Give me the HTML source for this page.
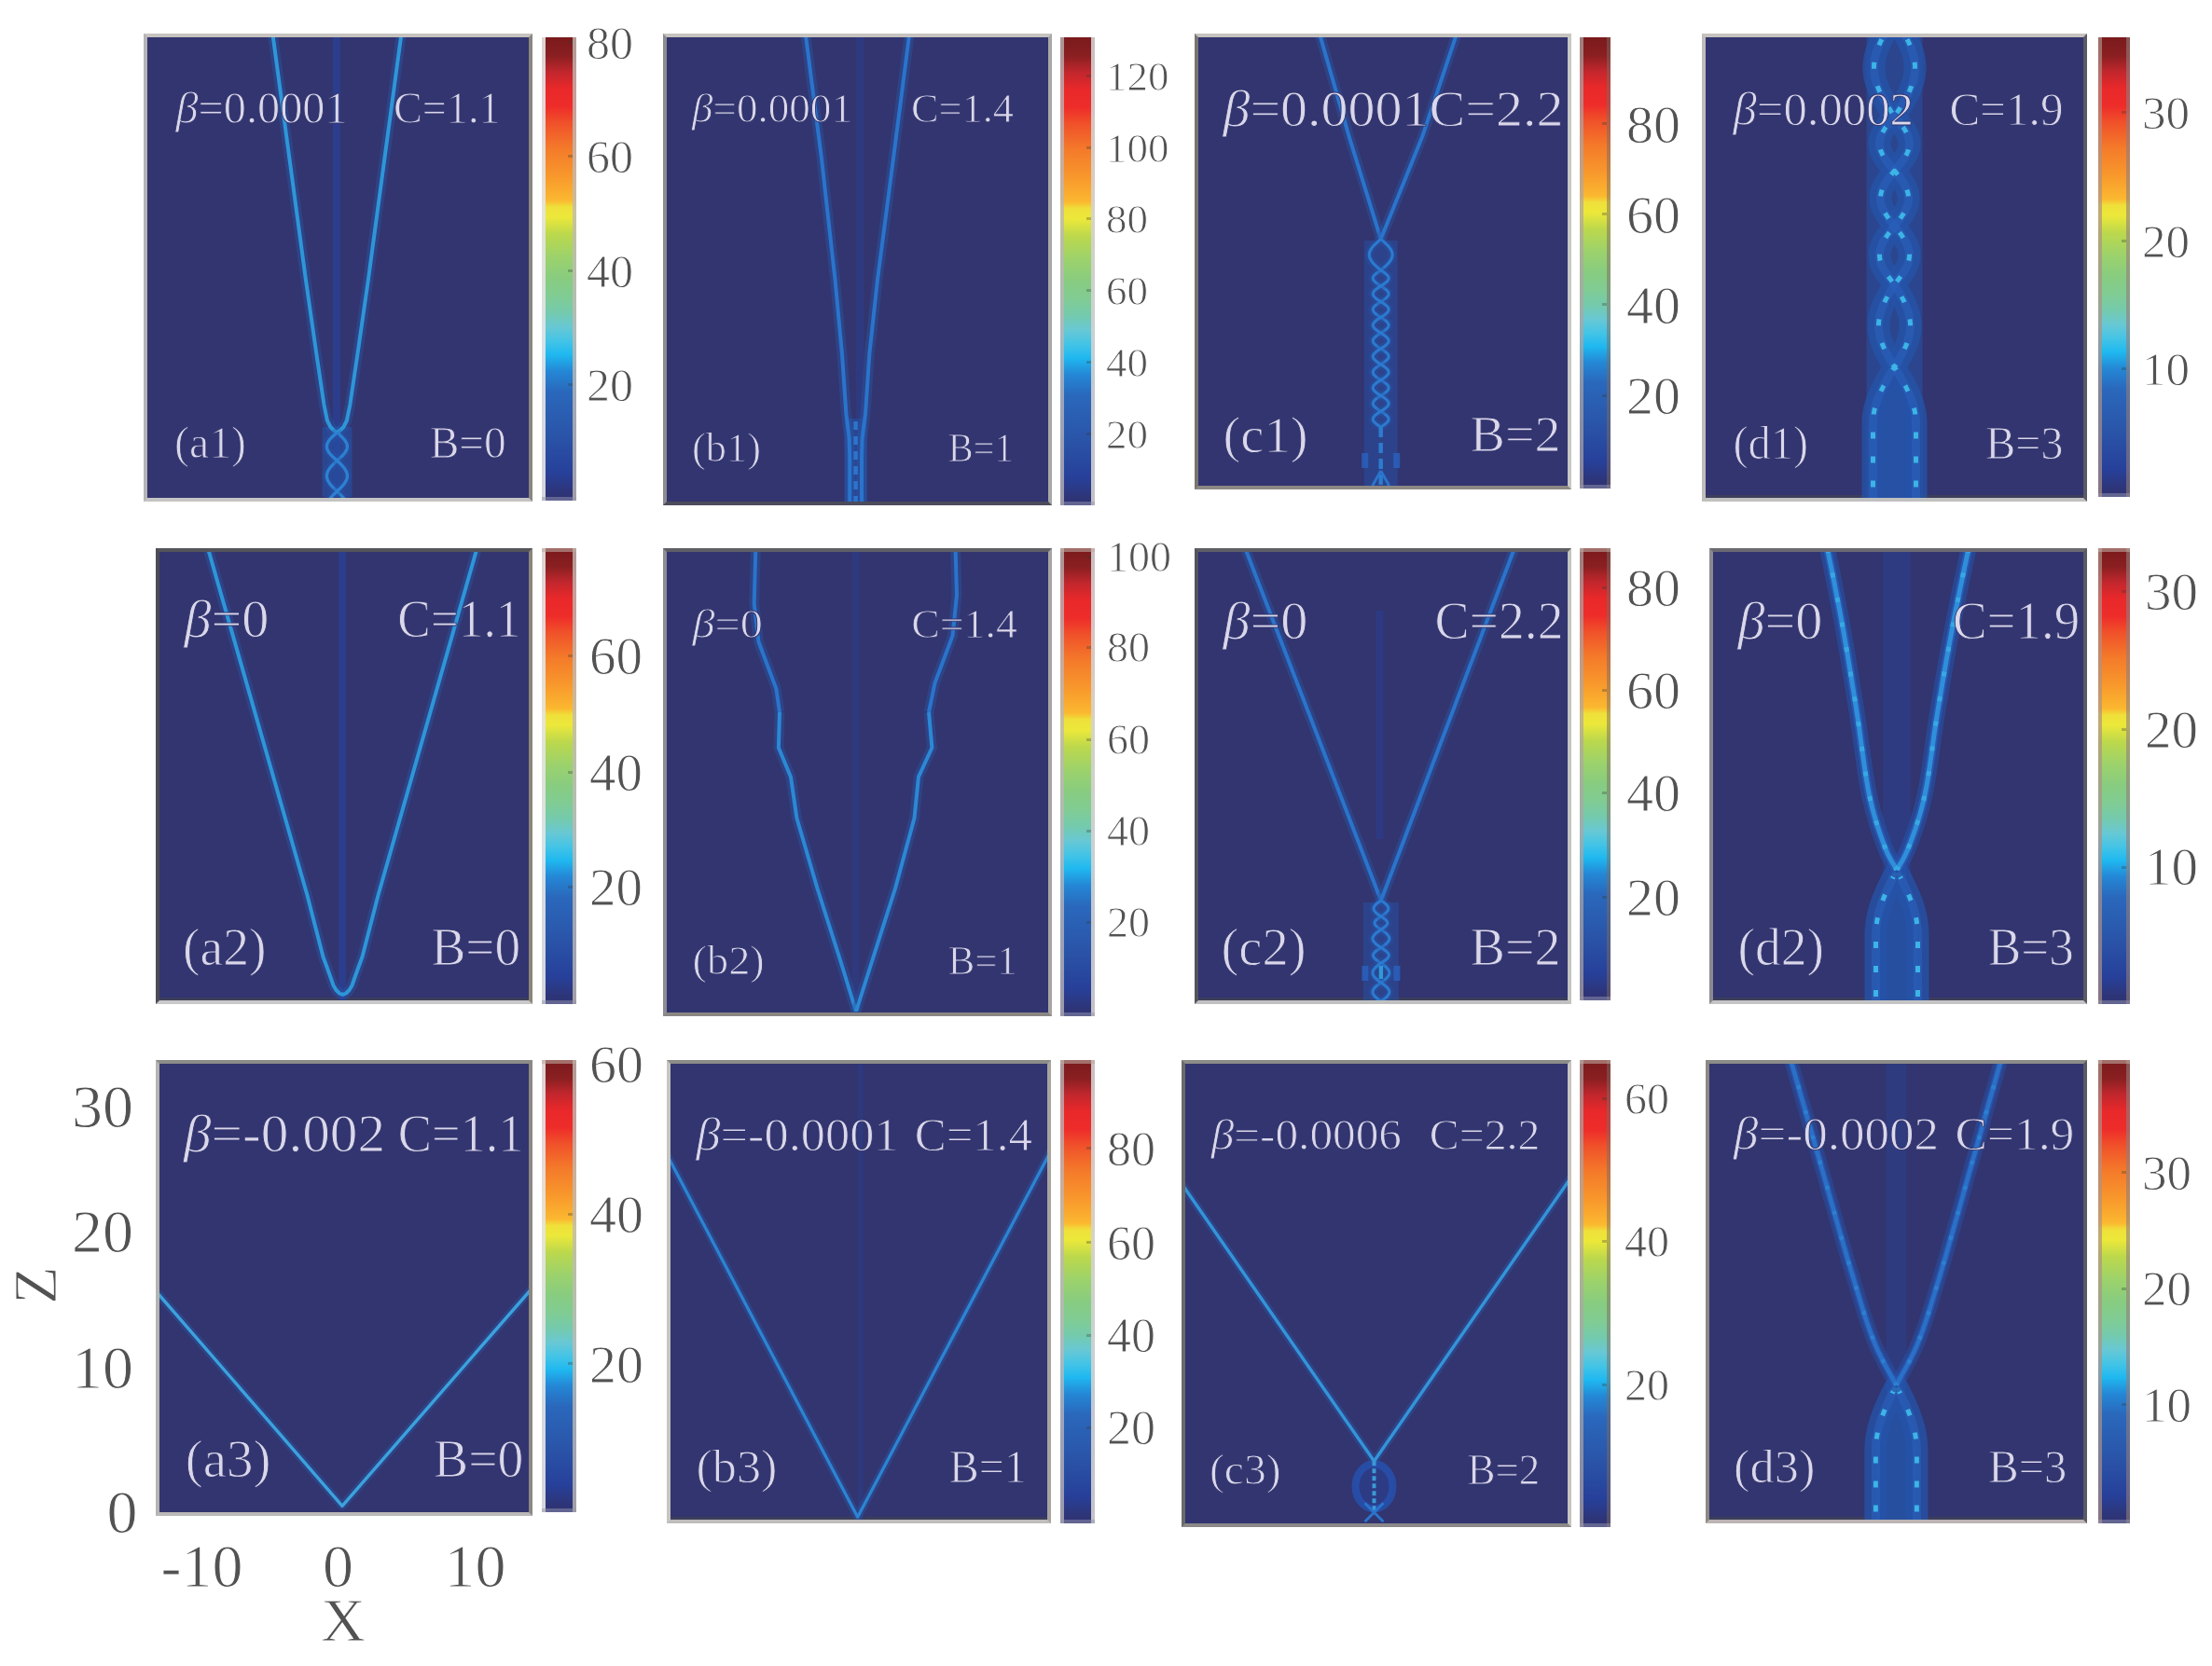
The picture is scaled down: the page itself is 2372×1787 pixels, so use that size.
<!DOCTYPE html>
<html lang="en"><head><meta charset="utf-8"><title>Figure: soliton propagation panels</title>
<style>
html,body{margin:0;padding:0;background:#fff}
#fig{position:relative;width:2372px;height:1787px;overflow:hidden;background:#fff;font-family:'Liberation Serif','DejaVu Serif',serif;filter:blur(0.75px)}
.panel{position:absolute;box-sizing:border-box;background:#32356f;border-style:solid;border-width:4px;overflow:hidden}
.panel svg{position:absolute;left:-4px;top:-4px;display:block}
.cb{position:absolute;box-sizing:border-box;background:linear-gradient(to bottom,#7a1a1c 0%,#8a1f21 4%,#c1272d 7.5%,#e8282a 11%,#ee2d2a 15%,#f0512a 18.5%,#f47a2a 24%,#f8982c 30%,#fbb830 35.2%,#efe03a 36.6%,#ece83a 38.8%,#bcd84c 42.5%,#9cd26c 47.5%,#88cc80 52%,#80cc94 56%,#74caae 59.5%,#68c8d4 62.5%,#44c4e6 65.5%,#1fb8f0 68.5%,#2488d6 72%,#2a68bc 76.5%,#2a54a8 86%,#27409a 94%,#2e3476 98.5%,#2e3476 100%)}
 .cb i{position:absolute;right:4px;width:5px;height:3px;background:rgba(50,60,50,0.3)}
svg text{font-family:'Liberation Serif','DejaVu Serif',serif}
#ov{position:absolute;left:0;top:0}
</style></head><body>
<div id="fig">
<div class="panel" id="p-a1" style="left:154px;top:36px;width:417px;height:501.5px;border-color:#c6c2be #8a8680 #c4c4c4 #b4b4b4">
<svg width="417" height="501.5" viewBox="154 36 417 501.5"><rect x="357" y="40" width="8" height="493" fill="#2b3d8c" fill-opacity="1"/><rect x="345.5" y="458" width="32" height="75" fill="#2552a8" fill-opacity="0.6"/><path d="M292.6 38 L310.4 170 L327.9 300 L339.4 380 L347.4 433.8 L350.9 451 L354.4 458 L358.4 462 L361.4 464" fill="none" stroke="#2857a8" stroke-width="11" stroke-opacity="0.42" stroke-linejoin="round"/><path d="M292.6 38 L310.4 170 L327.9 300 L339.4 380 L347.4 433.8 L350.9 451 L354.4 458 L358.4 462 L361.4 464" fill="none" stroke="#2e96d8" stroke-width="4" stroke-opacity="1" stroke-linejoin="round" stroke-linecap="butt"/><path d="M430.2 38 L412.4 170 L394.9 300 L383.4 380 L375.4 433.8 L371.9 451 L368.4 458 L364.4 462 L361.4 464" fill="none" stroke="#2857a8" stroke-width="11" stroke-opacity="0.42" stroke-linejoin="round"/><path d="M430.2 38 L412.4 170 L394.9 300 L383.4 380 L375.4 433.8 L371.9 451 L368.4 458 L364.4 462 L361.4 464" fill="none" stroke="#2e96d8" stroke-width="4" stroke-opacity="1" stroke-linejoin="round" stroke-linecap="butt"/><path d="M361.4 464 L363.7 466 L365.9 468 L367.9 470 L369.6 472 L370.9 474 L371.9 476 L372.3 478 L372.3 480 L371.9 482 L370.9 484 L369.6 486 L367.9 488 L365.9 490 L363.7 492 L361.4 494 L359.3 496.1 L357.2 498.1 L355.3 500.2 L353.6 502.2 L352.3 504.3 L351.2 506.4 L350.6 508.4 L350.4 510.5 L350.6 512.6 L351.2 514.6 L352.3 516.7 L353.6 518.8 L355.3 520.8 L357.2 522.9 L359.3 524.9 L361.4 527 L363.5 529.1 L365.6 531.1 L367.5 533.2 L369.2 535.2 L370.5 537.3 L371.6 539.4 L372.2 541.4 L372.4 543.5 L372.2 545.6 L371.6 547.6 L370.5 549.7 L369.2 551.8 L367.5 553.8 L365.6 555.9 L363.5 557.9 L361.4 560" fill="none" stroke="#2857a8" stroke-width="10" stroke-opacity="0.3" stroke-linejoin="round"/><path d="M361.4 464 L363.7 466 L365.9 468 L367.9 470 L369.6 472 L370.9 474 L371.9 476 L372.3 478 L372.3 480 L371.9 482 L370.9 484 L369.6 486 L367.9 488 L365.9 490 L363.7 492 L361.4 494 L359.3 496.1 L357.2 498.1 L355.3 500.2 L353.6 502.2 L352.3 504.3 L351.2 506.4 L350.6 508.4 L350.4 510.5 L350.6 512.6 L351.2 514.6 L352.3 516.7 L353.6 518.8 L355.3 520.8 L357.2 522.9 L359.3 524.9 L361.4 527 L363.5 529.1 L365.6 531.1 L367.5 533.2 L369.2 535.2 L370.5 537.3 L371.6 539.4 L372.2 541.4 L372.4 543.5 L372.2 545.6 L371.6 547.6 L370.5 549.7 L369.2 551.8 L367.5 553.8 L365.6 555.9 L363.5 557.9 L361.4 560" fill="none" stroke="#2c80d2" stroke-width="3.4" stroke-opacity="1" stroke-linejoin="round" stroke-linecap="butt"/><path d="M361.4 464 L359.1 466 L356.9 468 L354.9 470 L353.2 472 L351.9 474 L350.9 476 L350.5 478 L350.5 480 L350.9 482 L351.9 484 L353.2 486 L354.9 488 L356.9 490 L359.1 492 L361.4 494 L363.5 496.1 L365.6 498.1 L367.5 500.2 L369.2 502.2 L370.5 504.3 L371.6 506.4 L372.2 508.4 L372.4 510.5 L372.2 512.6 L371.6 514.6 L370.5 516.7 L369.2 518.8 L367.5 520.8 L365.6 522.9 L363.5 524.9 L361.4 527 L359.3 529.1 L357.2 531.1 L355.3 533.2 L353.6 535.2 L352.3 537.3 L351.2 539.4 L350.6 541.4 L350.4 543.5 L350.6 545.6 L351.2 547.6 L352.3 549.7 L353.6 551.8 L355.3 553.8 L357.2 555.9 L359.3 557.9 L361.4 560" fill="none" stroke="#2857a8" stroke-width="10" stroke-opacity="0.3" stroke-linejoin="round"/><path d="M361.4 464 L359.1 466 L356.9 468 L354.9 470 L353.2 472 L351.9 474 L350.9 476 L350.5 478 L350.5 480 L350.9 482 L351.9 484 L353.2 486 L354.9 488 L356.9 490 L359.1 492 L361.4 494 L363.5 496.1 L365.6 498.1 L367.5 500.2 L369.2 502.2 L370.5 504.3 L371.6 506.4 L372.2 508.4 L372.4 510.5 L372.2 512.6 L371.6 514.6 L370.5 516.7 L369.2 518.8 L367.5 520.8 L365.6 522.9 L363.5 524.9 L361.4 527 L359.3 529.1 L357.2 531.1 L355.3 533.2 L353.6 535.2 L352.3 537.3 L351.2 539.4 L350.6 541.4 L350.4 543.5 L350.6 545.6 L351.2 547.6 L352.3 549.7 L353.6 551.8 L355.3 553.8 L357.2 555.9 L359.3 557.9 L361.4 560" fill="none" stroke="#2c80d2" stroke-width="3.4" stroke-opacity="1" stroke-linejoin="round" stroke-linecap="butt"/><text x="188.6" y="132" font-size="48" fill="#e4e0f0" fill-opacity="0.95" text-anchor="start" textLength="184" lengthAdjust="spacingAndGlyphs" stroke="#32356f" stroke-width="0.9"><tspan font-style="italic">β</tspan>=0.0001</text><text x="422" y="132" font-size="48" fill="#e4e0f0" fill-opacity="0.95" text-anchor="start" textLength="114.5" lengthAdjust="spacingAndGlyphs" stroke="#32356f" stroke-width="0.9">C=1.1</text><text x="187" y="490.6" font-size="48" fill="#e4e0f0" fill-opacity="0.95" text-anchor="start" textLength="77" lengthAdjust="spacingAndGlyphs" stroke="#32356f" stroke-width="0.9">(a1)</text><text x="460.7" y="490.6" font-size="48" fill="#e4e0f0" fill-opacity="0.95" text-anchor="start" textLength="82" lengthAdjust="spacingAndGlyphs" stroke="#32356f" stroke-width="0.9">B=0</text></svg></div>
<div class="panel" id="p-b1" style="left:711px;top:36px;width:416.5px;height:506px;border-color:#c6c2be #a8a8a8 #4c4c5c #8c8c90">
<svg width="416.5" height="506" viewBox="711 36 416.5 506"><rect x="918" y="40" width="8" height="410" fill="#2b3d8c" fill-opacity="0.6"/><rect x="905.6" y="449" width="24" height="89" fill="#2552a8" fill-opacity="0.6"/><path d="M864 38 L881 170 L895.5 300 L903 380 L907.4 444 L910.6 470 L911.2 490 L911.2 540" fill="none" stroke="#2857a8" stroke-width="11" stroke-opacity="0.42" stroke-linejoin="round"/><path d="M864 38 L881 170 L895.5 300 L903 380 L907.4 444 L910.6 470 L911.2 490 L911.2 540" fill="none" stroke="#2a74cc" stroke-width="4" stroke-opacity="1" stroke-linejoin="round" stroke-linecap="butt"/><path d="M975 38 L958 170 L941 300 L932.3 380 L928 444 L924.6 470 L924 490 L924 540" fill="none" stroke="#2857a8" stroke-width="11" stroke-opacity="0.42" stroke-linejoin="round"/><path d="M975 38 L958 170 L941 300 L932.3 380 L928 444 L924.6 470 L924 490 L924 540" fill="none" stroke="#2a74cc" stroke-width="4" stroke-opacity="1" stroke-linejoin="round" stroke-linecap="butt"/><path d="M917.6 452 V538" stroke="#2c74cc" stroke-width="4.5" stroke-dasharray="9 7" fill="none"/><text x="742" y="131.4" font-size="44" fill="#e4e0f0" fill-opacity="0.95" text-anchor="start" textLength="172" lengthAdjust="spacingAndGlyphs" stroke="#32356f" stroke-width="0.9"><tspan font-style="italic">β</tspan>=0.0001</text><text x="977" y="131.4" font-size="44" fill="#e4e0f0" fill-opacity="0.95" text-anchor="start" textLength="110" lengthAdjust="spacingAndGlyphs" stroke="#32356f" stroke-width="0.9">C=1.4</text><text x="742" y="495" font-size="44" fill="#e4e0f0" fill-opacity="0.95" text-anchor="start" textLength="74" lengthAdjust="spacingAndGlyphs" stroke="#32356f" stroke-width="0.9">(b1)</text><text x="1016.8" y="495" font-size="44" fill="#e4e0f0" fill-opacity="0.95" text-anchor="start" textLength="70" lengthAdjust="spacingAndGlyphs" stroke="#32356f" stroke-width="0.9">B=1</text></svg></div>
<div class="panel" id="p-c1" style="left:1280.5px;top:36px;width:404.5px;height:489px;border-color:#c6c2be #c8c8c4 #8c8884 #7a7470">
<svg width="404.5" height="489" viewBox="1280.5 36 404.5 489"><path d="M1415 38 L1446.2 146.6 L1480.2 256.5" fill="none" stroke="#2857a8" stroke-width="11" stroke-opacity="0.42" stroke-linejoin="round"/><path d="M1415 38 L1446.2 146.6 L1480.2 256.5" fill="none" stroke="#2a74cc" stroke-width="4" stroke-opacity="1" stroke-linejoin="round" stroke-linecap="butt"/><path d="M1561 38 L1524.7 146.6 L1480.2 256.5" fill="none" stroke="#2857a8" stroke-width="11" stroke-opacity="0.42" stroke-linejoin="round"/><path d="M1561 38 L1524.7 146.6 L1480.2 256.5" fill="none" stroke="#2a74cc" stroke-width="4" stroke-opacity="1" stroke-linejoin="round" stroke-linecap="butt"/><rect x="1462.2" y="258" width="36" height="263" fill="#2552a8" fill-opacity="0.5"/><path d="M1480.2 256.5 L1482.6 258.6 L1484.9 260.7 L1487.1 262.8 L1489 264.9 L1490.5 267 L1491.7 269.1 L1492.4 271.2 L1492.6 273.2 L1492.4 275.3 L1491.7 277.4 L1490.5 279.5 L1489 281.6 L1487.1 283.7 L1484.9 285.8 L1482.6 287.9 L1480.2 290 L1476.9 292.1 L1474.2 294.2 L1472.3 296.3 L1471.7 298.4 L1472.3 300.5 L1474.2 302.6 L1476.9 304.7 L1480.2 306.8 L1483.5 308.9 L1486.2 311 L1488.1 313.1 L1488.7 315.2 L1488.1 317.3 L1486.2 319.4 L1483.5 321.5 L1480.2 323.6 L1476.9 325.7 L1474.2 327.8 L1472.3 329.9 L1471.7 332 L1472.3 334.1 L1474.2 336.2 L1476.9 338.3 L1480.2 340.4 L1483.5 342.5 L1486.2 344.6 L1488.1 346.7 L1488.7 348.8 L1488.1 350.9 L1486.2 353 L1483.5 355.1 L1480.2 357.2 L1476.9 359.3 L1474.2 361.4 L1472.3 363.5 L1471.7 365.6 L1472.3 367.7 L1474.2 369.8 L1476.9 371.9 L1480.2 374 L1483.5 376.1 L1486.2 378.2 L1488.1 380.3 L1488.7 382.4 L1488.1 384.5 L1486.2 386.6 L1483.5 388.7 L1480.2 390.8 L1476.9 392.9 L1474.2 395 L1472.3 397.1 L1471.7 399.2 L1472.3 401.3 L1474.2 403.4 L1476.9 405.5 L1480.2 407.6 L1483.5 409.7 L1486.2 411.8 L1488.1 413.9 L1488.7 416 L1488.1 418.1 L1486.2 420.2 L1483.5 422.3 L1480.2 424.4 L1476.9 426.5 L1474.2 428.6 L1472.3 430.7 L1471.7 432.8 L1472.3 434.9 L1474.2 437 L1476.9 439.1 L1480.2 441.2 L1483.5 443.3 L1486.2 445.4 L1488.1 447.5 L1488.7 449.6 L1488.1 451.7 L1486.2 453.8 L1483.5 455.9 L1480.2 458" fill="none" stroke="#2857a8" stroke-width="9" stroke-opacity="0.3" stroke-linejoin="round"/><path d="M1480.2 256.5 L1482.6 258.6 L1484.9 260.7 L1487.1 262.8 L1489 264.9 L1490.5 267 L1491.7 269.1 L1492.4 271.2 L1492.6 273.2 L1492.4 275.3 L1491.7 277.4 L1490.5 279.5 L1489 281.6 L1487.1 283.7 L1484.9 285.8 L1482.6 287.9 L1480.2 290 L1476.9 292.1 L1474.2 294.2 L1472.3 296.3 L1471.7 298.4 L1472.3 300.5 L1474.2 302.6 L1476.9 304.7 L1480.2 306.8 L1483.5 308.9 L1486.2 311 L1488.1 313.1 L1488.7 315.2 L1488.1 317.3 L1486.2 319.4 L1483.5 321.5 L1480.2 323.6 L1476.9 325.7 L1474.2 327.8 L1472.3 329.9 L1471.7 332 L1472.3 334.1 L1474.2 336.2 L1476.9 338.3 L1480.2 340.4 L1483.5 342.5 L1486.2 344.6 L1488.1 346.7 L1488.7 348.8 L1488.1 350.9 L1486.2 353 L1483.5 355.1 L1480.2 357.2 L1476.9 359.3 L1474.2 361.4 L1472.3 363.5 L1471.7 365.6 L1472.3 367.7 L1474.2 369.8 L1476.9 371.9 L1480.2 374 L1483.5 376.1 L1486.2 378.2 L1488.1 380.3 L1488.7 382.4 L1488.1 384.5 L1486.2 386.6 L1483.5 388.7 L1480.2 390.8 L1476.9 392.9 L1474.2 395 L1472.3 397.1 L1471.7 399.2 L1472.3 401.3 L1474.2 403.4 L1476.9 405.5 L1480.2 407.6 L1483.5 409.7 L1486.2 411.8 L1488.1 413.9 L1488.7 416 L1488.1 418.1 L1486.2 420.2 L1483.5 422.3 L1480.2 424.4 L1476.9 426.5 L1474.2 428.6 L1472.3 430.7 L1471.7 432.8 L1472.3 434.9 L1474.2 437 L1476.9 439.1 L1480.2 441.2 L1483.5 443.3 L1486.2 445.4 L1488.1 447.5 L1488.7 449.6 L1488.1 451.7 L1486.2 453.8 L1483.5 455.9 L1480.2 458" fill="none" stroke="#2b7ad0" stroke-width="3.2" stroke-opacity="1" stroke-linejoin="round" stroke-linecap="butt"/><path d="M1480.2 256.5 L1477.8 258.6 L1475.5 260.7 L1473.3 262.8 L1471.4 264.9 L1469.9 267 L1468.7 269.1 L1468 271.2 L1467.8 273.2 L1468 275.3 L1468.7 277.4 L1469.9 279.5 L1471.4 281.6 L1473.3 283.7 L1475.5 285.8 L1477.8 287.9 L1480.2 290 L1483.5 292.1 L1486.2 294.2 L1488.1 296.3 L1488.7 298.4 L1488.1 300.5 L1486.2 302.6 L1483.5 304.7 L1480.2 306.8 L1476.9 308.9 L1474.2 311 L1472.3 313.1 L1471.7 315.2 L1472.3 317.3 L1474.2 319.4 L1476.9 321.5 L1480.2 323.6 L1483.5 325.7 L1486.2 327.8 L1488.1 329.9 L1488.7 332 L1488.1 334.1 L1486.2 336.2 L1483.5 338.3 L1480.2 340.4 L1476.9 342.5 L1474.2 344.6 L1472.3 346.7 L1471.7 348.8 L1472.3 350.9 L1474.2 353 L1476.9 355.1 L1480.2 357.2 L1483.5 359.3 L1486.2 361.4 L1488.1 363.5 L1488.7 365.6 L1488.1 367.7 L1486.2 369.8 L1483.5 371.9 L1480.2 374 L1476.9 376.1 L1474.2 378.2 L1472.3 380.3 L1471.7 382.4 L1472.3 384.5 L1474.2 386.6 L1476.9 388.7 L1480.2 390.8 L1483.5 392.9 L1486.2 395 L1488.1 397.1 L1488.7 399.2 L1488.1 401.3 L1486.2 403.4 L1483.5 405.5 L1480.2 407.6 L1476.9 409.7 L1474.2 411.8 L1472.3 413.9 L1471.7 416 L1472.3 418.1 L1474.2 420.2 L1476.9 422.3 L1480.2 424.4 L1483.5 426.5 L1486.2 428.6 L1488.1 430.7 L1488.7 432.8 L1488.1 434.9 L1486.2 437 L1483.5 439.1 L1480.2 441.2 L1476.9 443.3 L1474.2 445.4 L1472.3 447.5 L1471.7 449.6 L1472.3 451.7 L1474.2 453.8 L1476.9 455.9 L1480.2 458" fill="none" stroke="#2857a8" stroke-width="9" stroke-opacity="0.3" stroke-linejoin="round"/><path d="M1480.2 256.5 L1477.8 258.6 L1475.5 260.7 L1473.3 262.8 L1471.4 264.9 L1469.9 267 L1468.7 269.1 L1468 271.2 L1467.8 273.2 L1468 275.3 L1468.7 277.4 L1469.9 279.5 L1471.4 281.6 L1473.3 283.7 L1475.5 285.8 L1477.8 287.9 L1480.2 290 L1483.5 292.1 L1486.2 294.2 L1488.1 296.3 L1488.7 298.4 L1488.1 300.5 L1486.2 302.6 L1483.5 304.7 L1480.2 306.8 L1476.9 308.9 L1474.2 311 L1472.3 313.1 L1471.7 315.2 L1472.3 317.3 L1474.2 319.4 L1476.9 321.5 L1480.2 323.6 L1483.5 325.7 L1486.2 327.8 L1488.1 329.9 L1488.7 332 L1488.1 334.1 L1486.2 336.2 L1483.5 338.3 L1480.2 340.4 L1476.9 342.5 L1474.2 344.6 L1472.3 346.7 L1471.7 348.8 L1472.3 350.9 L1474.2 353 L1476.9 355.1 L1480.2 357.2 L1483.5 359.3 L1486.2 361.4 L1488.1 363.5 L1488.7 365.6 L1488.1 367.7 L1486.2 369.8 L1483.5 371.9 L1480.2 374 L1476.9 376.1 L1474.2 378.2 L1472.3 380.3 L1471.7 382.4 L1472.3 384.5 L1474.2 386.6 L1476.9 388.7 L1480.2 390.8 L1483.5 392.9 L1486.2 395 L1488.1 397.1 L1488.7 399.2 L1488.1 401.3 L1486.2 403.4 L1483.5 405.5 L1480.2 407.6 L1476.9 409.7 L1474.2 411.8 L1472.3 413.9 L1471.7 416 L1472.3 418.1 L1474.2 420.2 L1476.9 422.3 L1480.2 424.4 L1483.5 426.5 L1486.2 428.6 L1488.1 430.7 L1488.7 432.8 L1488.1 434.9 L1486.2 437 L1483.5 439.1 L1480.2 441.2 L1476.9 443.3 L1474.2 445.4 L1472.3 447.5 L1471.7 449.6 L1472.3 451.7 L1474.2 453.8 L1476.9 455.9 L1480.2 458" fill="none" stroke="#2b7ad0" stroke-width="3.2" stroke-opacity="1" stroke-linejoin="round" stroke-linecap="butt"/><path d="M1480.2 458 V521" stroke="#2c7cd0" stroke-width="4.4" stroke-dasharray="11 6" fill="none"/><path d="M1463.2 486 V502 M1497.2 486 V502" stroke="#2a62c0" stroke-width="7" stroke-opacity="0.8" fill="none"/><path d="M1480.2 505 L1471.2 521 M1480.2 505 L1489.2 521" stroke="#2b74cc" stroke-width="3" fill="none"/><text x="1311" y="134.6" font-size="55" fill="#e4e0f0" fill-opacity="0.95" text-anchor="start" textLength="365" lengthAdjust="spacingAndGlyphs" stroke="#32356f" stroke-width="0.9"><tspan font-style="italic">β</tspan>=0.0001C=2.2</text><text x="1311" y="484.5" font-size="55" fill="#e4e0f0" fill-opacity="0.95" text-anchor="start" textLength="91" lengthAdjust="spacingAndGlyphs" stroke="#32356f" stroke-width="0.9">(c1)</text><text x="1576" y="484" font-size="55" fill="#e4e0f0" fill-opacity="0.95" text-anchor="start" textLength="97" lengthAdjust="spacingAndGlyphs" stroke="#32356f" stroke-width="0.9">B=2</text></svg></div>
<div class="panel" id="p-d1" style="left:1824.5px;top:36px;width:413.5px;height:501.5px;border-color:#c6c2be #5a5a64 #c0c0c0 #c0bcbc;box-shadow:inset 0 -3px 0 rgba(62,64,88,0.85)">
<svg width="413.5" height="501.5" viewBox="1824.5 36 413.5 501.5"><rect x="2001" y="38" width="60" height="498" fill="#2654a8" fill-opacity="0.55"/><path d="M2022.6 408 L2020.9 411 L2019.3 414 L2017.8 417 L2016.4 420 L2015 423 L2013.8 426 L2012.6 429 L2011.6 432 L2010.7 435 L2009.9 438 L2009.3 441 L2008.7 444 L2008.4 447 L2008.1 450 L2008 453 L2008 456 L2008 459 L2008 462 L2008 465 L2008 468 L2008 471 L2008 474 L2008 477 L2008 480 L2008 483 L2008 486 L2008 489 L2008 492 L2008 495 L2008 498 L2008 501 L2008 504 L2008 507 L2008 510 L2008 513 L2008 516 L2008 519 L2008 522 L2008 525 L2008 528 L2008 531 L2008 534 L2054 534 L2054 531 L2054 528 L2054 525 L2054 522 L2054 519 L2054 516 L2054 513 L2054 510 L2054 507 L2054 504 L2054 501 L2054 498 L2054 495 L2054 492 L2054 489 L2054 486 L2054 483 L2054 480 L2054 477 L2054 474 L2054 471 L2054 468 L2054 465 L2054 462 L2054 459 L2054 456 L2054 453 L2053.9 450 L2053.6 447 L2053.3 444 L2052.7 441 L2052.1 438 L2051.3 435 L2050.4 432 L2049.4 429 L2048.2 426 L2047 423 L2045.6 420 L2044.2 417 L2042.7 414 L2041.1 411 L2039.4 408Z" fill="#2654a8" fill-opacity="0.85"/><path d="M2031 20 L2032.3 22 L2033.7 24 L2035 26.1 L2036.3 28.1 L2037.5 30.1 L2038.8 32.1 L2040 34.1 L2041.2 36.2 L2042.4 38.2 L2043.5 40.2 L2044.6 42.2 L2045.6 44.2 L2046.6 46.2 L2047.5 48.3 L2048.3 50.3 L2049.1 52.3 L2049.8 54.3 L2050.5 56.3 L2051.1 58.4 L2051.6 60.4 L2052 62.4 L2052.4 64.4 L2052.6 66.4 L2052.8 68.5 L2053 70.5 L2053 72.5 L2053 74.5 L2052.8 76.5 L2052.6 78.6 L2052.4 80.6 L2052 82.6 L2051.6 84.6 L2051.1 86.6 L2050.5 88.7 L2049.8 90.7 L2049.1 92.7 L2048.3 94.7 L2047.5 96.7 L2046.6 98.8 L2045.6 100.8 L2044.6 102.8 L2043.5 104.8 L2042.4 106.8 L2041.2 108.8 L2040 110.9 L2038.8 112.9 L2037.5 114.9 L2036.3 116.9 L2035 118.9 L2033.7 121 L2032.3 123 L2031 125 L2029.3 127 L2027.6 129 L2025.9 131 L2024.3 133 L2022.8 135 L2021.3 137 L2020 139 L2018.8 141 L2017.8 143 L2016.9 145 L2016.1 147 L2015.6 149 L2015.2 151 L2015 153 L2015 155 L2015.2 157 L2015.6 159 L2016.1 161 L2016.9 163 L2017.8 165 L2018.8 167 L2020 169 L2021.3 171 L2022.8 173 L2024.3 175 L2025.9 177 L2027.6 179 L2029.3 181 L2031 183 L2032.6 185 L2034.2 187.1 L2035.8 189.1 L2037.3 191.2 L2038.7 193.2 L2040.1 195.3 L2041.3 197.3 L2042.4 199.4 L2043.4 201.4 L2044.3 203.5 L2044.9 205.5 L2045.5 207.6 L2045.8 209.6 L2046 211.7 L2046 213.7 L2045.8 215.8 L2045.5 217.8 L2044.9 219.9 L2044.3 221.9 L2043.4 224 L2042.4 226 L2041.3 228.1 L2040.1 230.1 L2038.7 232.2 L2037.3 234.2 L2035.8 236.3 L2034.2 238.3 L2032.6 240.4 L2031 242.4 L2029.4 244.4 L2027.8 246.4 L2026.2 248.5 L2024.7 250.5 L2023.2 252.5 L2021.9 254.5 L2020.6 256.5 L2019.4 258.6 L2018.3 260.6 L2017.4 262.6 L2016.6 264.6 L2016 266.6 L2015.5 268.7 L2015.2 270.7 L2015 272.7 L2015 274.7 L2015.2 276.7 L2015.5 278.7 L2016 280.8 L2016.6 282.8 L2017.4 284.8 L2018.3 286.8 L2019.4 288.8 L2020.6 290.9 L2021.9 292.9 L2023.2 294.9 L2024.7 296.9 L2026.2 298.9 L2027.8 301 L2029.4 303 L2031 305 L2032.2 307 L2033.4 309 L2034.6 311 L2035.8 313.1 L2036.9 315.1 L2038.1 317.1 L2039.1 319.1 L2040.2 321.1 L2041.2 323.1 L2042.1 325.2 L2043 327.2 L2043.8 329.2 L2044.6 331.2 L2045.3 333.2 L2045.9 335.2 L2046.5 337.3 L2046.9 339.3 L2047.3 341.3 L2047.6 343.3 L2047.8 345.3 L2048 347.3 L2048 349.4 L2048 351.4 L2047.8 353.4 L2047.6 355.4 L2047.3 357.4 L2046.9 359.4 L2046.5 361.4 L2045.9 363.5 L2045.3 365.5 L2044.6 367.5 L2043.8 369.5 L2043 371.5 L2042.1 373.5 L2041.2 375.6 L2040.2 377.6 L2039.1 379.6 L2038.1 381.6 L2036.9 383.6 L2035.8 385.6 L2034.6 387.7 L2033.4 389.7 L2032.2 391.7 L2031 393.7 L2032.4 396 L2034.2 399 L2036 402 L2037.7 405 L2039.4 408 L2041.1 411 L2042.7 414 L2044.2 417 L2045.6 420 L2047 423 L2048.2 426 L2049.4 429 L2050.4 432 L2051.3 435 L2052.1 438 L2052.7 441 L2053.3 444 L2053.6 447 L2053.9 450 L2054 453 L2054 456 L2054 459 L2054 462 L2054 465 L2054 468 L2054 471 L2054 474 L2054 477 L2054 480 L2054 483 L2054 486 L2054 489 L2054 492 L2054 495 L2054 498 L2054 501 L2054 504 L2054 507 L2054 510 L2054 513 L2054 516 L2054 519 L2054 522 L2054 525 L2054 528 L2054 531 L2054 534 L2054 537" fill="none" stroke="#2552a8" stroke-width="24" stroke-opacity="0.8" stroke-linejoin="round" stroke-linecap="round"/><path d="M2031 20 L2029.7 22 L2028.3 24 L2027 26.1 L2025.7 28.1 L2024.5 30.1 L2023.2 32.1 L2022 34.1 L2020.8 36.2 L2019.6 38.2 L2018.5 40.2 L2017.4 42.2 L2016.4 44.2 L2015.4 46.2 L2014.5 48.3 L2013.7 50.3 L2012.9 52.3 L2012.2 54.3 L2011.5 56.3 L2010.9 58.4 L2010.4 60.4 L2010 62.4 L2009.6 64.4 L2009.4 66.4 L2009.2 68.5 L2009 70.5 L2009 72.5 L2009 74.5 L2009.2 76.5 L2009.4 78.6 L2009.6 80.6 L2010 82.6 L2010.4 84.6 L2010.9 86.6 L2011.5 88.7 L2012.2 90.7 L2012.9 92.7 L2013.7 94.7 L2014.5 96.7 L2015.4 98.8 L2016.4 100.8 L2017.4 102.8 L2018.5 104.8 L2019.6 106.8 L2020.8 108.8 L2022 110.9 L2023.2 112.9 L2024.5 114.9 L2025.7 116.9 L2027 118.9 L2028.3 121 L2029.7 123 L2031 125 L2032.7 127 L2034.4 129 L2036.1 131 L2037.7 133 L2039.2 135 L2040.7 137 L2042 139 L2043.2 141 L2044.2 143 L2045.1 145 L2045.9 147 L2046.4 149 L2046.8 151 L2047 153 L2047 155 L2046.8 157 L2046.4 159 L2045.9 161 L2045.1 163 L2044.2 165 L2043.2 167 L2042 169 L2040.7 171 L2039.2 173 L2037.7 175 L2036.1 177 L2034.4 179 L2032.7 181 L2031 183 L2029.4 185 L2027.8 187.1 L2026.2 189.1 L2024.7 191.2 L2023.3 193.2 L2021.9 195.3 L2020.7 197.3 L2019.6 199.4 L2018.6 201.4 L2017.7 203.5 L2017.1 205.5 L2016.5 207.6 L2016.2 209.6 L2016 211.7 L2016 213.7 L2016.2 215.8 L2016.5 217.8 L2017.1 219.9 L2017.7 221.9 L2018.6 224 L2019.6 226 L2020.7 228.1 L2021.9 230.1 L2023.3 232.2 L2024.7 234.2 L2026.2 236.3 L2027.8 238.3 L2029.4 240.4 L2031 242.4 L2032.6 244.4 L2034.2 246.4 L2035.8 248.5 L2037.3 250.5 L2038.8 252.5 L2040.1 254.5 L2041.4 256.5 L2042.6 258.6 L2043.7 260.6 L2044.6 262.6 L2045.4 264.6 L2046 266.6 L2046.5 268.7 L2046.8 270.7 L2047 272.7 L2047 274.7 L2046.8 276.7 L2046.5 278.7 L2046 280.8 L2045.4 282.8 L2044.6 284.8 L2043.7 286.8 L2042.6 288.8 L2041.4 290.9 L2040.1 292.9 L2038.8 294.9 L2037.3 296.9 L2035.8 298.9 L2034.2 301 L2032.6 303 L2031 305 L2029.8 307 L2028.6 309 L2027.4 311 L2026.2 313.1 L2025.1 315.1 L2023.9 317.1 L2022.9 319.1 L2021.8 321.1 L2020.8 323.1 L2019.9 325.2 L2019 327.2 L2018.2 329.2 L2017.4 331.2 L2016.7 333.2 L2016.1 335.2 L2015.5 337.3 L2015.1 339.3 L2014.7 341.3 L2014.4 343.3 L2014.2 345.3 L2014 347.3 L2014 349.4 L2014 351.4 L2014.2 353.4 L2014.4 355.4 L2014.7 357.4 L2015.1 359.4 L2015.5 361.4 L2016.1 363.5 L2016.7 365.5 L2017.4 367.5 L2018.2 369.5 L2019 371.5 L2019.9 373.5 L2020.8 375.6 L2021.8 377.6 L2022.9 379.6 L2023.9 381.6 L2025.1 383.6 L2026.2 385.6 L2027.4 387.7 L2028.6 389.7 L2029.8 391.7 L2031 393.7 L2029.6 396 L2027.8 399 L2026 402 L2024.3 405 L2022.6 408 L2020.9 411 L2019.3 414 L2017.8 417 L2016.4 420 L2015 423 L2013.8 426 L2012.6 429 L2011.6 432 L2010.7 435 L2009.9 438 L2009.3 441 L2008.7 444 L2008.4 447 L2008.1 450 L2008 453 L2008 456 L2008 459 L2008 462 L2008 465 L2008 468 L2008 471 L2008 474 L2008 477 L2008 480 L2008 483 L2008 486 L2008 489 L2008 492 L2008 495 L2008 498 L2008 501 L2008 504 L2008 507 L2008 510 L2008 513 L2008 516 L2008 519 L2008 522 L2008 525 L2008 528 L2008 531 L2008 534 L2008 537" fill="none" stroke="#2552a8" stroke-width="24" stroke-opacity="0.8" stroke-linejoin="round" stroke-linecap="round"/><path d="M2031 20 L2032.3 22 L2033.7 24 L2035 26.1 L2036.3 28.1 L2037.5 30.1 L2038.8 32.1 L2040 34.1 L2041.2 36.2 L2042.4 38.2 L2043.5 40.2 L2044.6 42.2 L2045.6 44.2 L2046.6 46.2 L2047.5 48.3 L2048.3 50.3 L2049.1 52.3 L2049.8 54.3 L2050.5 56.3 L2051.1 58.4 L2051.6 60.4 L2052 62.4 L2052.4 64.4 L2052.6 66.4 L2052.8 68.5 L2053 70.5 L2053 72.5 L2053 74.5 L2052.8 76.5 L2052.6 78.6 L2052.4 80.6 L2052 82.6 L2051.6 84.6 L2051.1 86.6 L2050.5 88.7 L2049.8 90.7 L2049.1 92.7 L2048.3 94.7 L2047.5 96.7 L2046.6 98.8 L2045.6 100.8 L2044.6 102.8 L2043.5 104.8 L2042.4 106.8 L2041.2 108.8 L2040 110.9 L2038.8 112.9 L2037.5 114.9 L2036.3 116.9 L2035 118.9 L2033.7 121 L2032.3 123 L2031 125 L2029.3 127 L2027.6 129 L2025.9 131 L2024.3 133 L2022.8 135 L2021.3 137 L2020 139 L2018.8 141 L2017.8 143 L2016.9 145 L2016.1 147 L2015.6 149 L2015.2 151 L2015 153 L2015 155 L2015.2 157 L2015.6 159 L2016.1 161 L2016.9 163 L2017.8 165 L2018.8 167 L2020 169 L2021.3 171 L2022.8 173 L2024.3 175 L2025.9 177 L2027.6 179 L2029.3 181 L2031 183 L2032.6 185 L2034.2 187.1 L2035.8 189.1 L2037.3 191.2 L2038.7 193.2 L2040.1 195.3 L2041.3 197.3 L2042.4 199.4 L2043.4 201.4 L2044.3 203.5 L2044.9 205.5 L2045.5 207.6 L2045.8 209.6 L2046 211.7 L2046 213.7 L2045.8 215.8 L2045.5 217.8 L2044.9 219.9 L2044.3 221.9 L2043.4 224 L2042.4 226 L2041.3 228.1 L2040.1 230.1 L2038.7 232.2 L2037.3 234.2 L2035.8 236.3 L2034.2 238.3 L2032.6 240.4 L2031 242.4 L2029.4 244.4 L2027.8 246.4 L2026.2 248.5 L2024.7 250.5 L2023.2 252.5 L2021.9 254.5 L2020.6 256.5 L2019.4 258.6 L2018.3 260.6 L2017.4 262.6 L2016.6 264.6 L2016 266.6 L2015.5 268.7 L2015.2 270.7 L2015 272.7 L2015 274.7 L2015.2 276.7 L2015.5 278.7 L2016 280.8 L2016.6 282.8 L2017.4 284.8 L2018.3 286.8 L2019.4 288.8 L2020.6 290.9 L2021.9 292.9 L2023.2 294.9 L2024.7 296.9 L2026.2 298.9 L2027.8 301 L2029.4 303 L2031 305 L2032.2 307 L2033.4 309 L2034.6 311 L2035.8 313.1 L2036.9 315.1 L2038.1 317.1 L2039.1 319.1 L2040.2 321.1 L2041.2 323.1 L2042.1 325.2 L2043 327.2 L2043.8 329.2 L2044.6 331.2 L2045.3 333.2 L2045.9 335.2 L2046.5 337.3 L2046.9 339.3 L2047.3 341.3 L2047.6 343.3 L2047.8 345.3 L2048 347.3 L2048 349.4 L2048 351.4 L2047.8 353.4 L2047.6 355.4 L2047.3 357.4 L2046.9 359.4 L2046.5 361.4 L2045.9 363.5 L2045.3 365.5 L2044.6 367.5 L2043.8 369.5 L2043 371.5 L2042.1 373.5 L2041.2 375.6 L2040.2 377.6 L2039.1 379.6 L2038.1 381.6 L2036.9 383.6 L2035.8 385.6 L2034.6 387.7 L2033.4 389.7 L2032.2 391.7 L2031 393.7 L2032.4 396 L2034.2 399 L2036 402 L2037.7 405 L2039.4 408 L2041.1 411 L2042.7 414 L2044.2 417 L2045.6 420 L2047 423 L2048.2 426 L2049.4 429 L2050.4 432 L2051.3 435 L2052.1 438 L2052.7 441 L2053.3 444 L2053.6 447 L2053.9 450 L2054 453 L2054 456 L2054 459 L2054 462 L2054 465 L2054 468 L2054 471 L2054 474 L2054 477 L2054 480 L2054 483 L2054 486 L2054 489 L2054 492 L2054 495 L2054 498 L2054 501 L2054 504 L2054 507 L2054 510 L2054 513 L2054 516 L2054 519 L2054 522 L2054 525 L2054 528 L2054 531 L2054 534 L2054 537" fill="none" stroke="#2960bc" stroke-width="9" stroke-opacity="0.6" stroke-linejoin="round"/><path d="M2031 20 L2029.7 22 L2028.3 24 L2027 26.1 L2025.7 28.1 L2024.5 30.1 L2023.2 32.1 L2022 34.1 L2020.8 36.2 L2019.6 38.2 L2018.5 40.2 L2017.4 42.2 L2016.4 44.2 L2015.4 46.2 L2014.5 48.3 L2013.7 50.3 L2012.9 52.3 L2012.2 54.3 L2011.5 56.3 L2010.9 58.4 L2010.4 60.4 L2010 62.4 L2009.6 64.4 L2009.4 66.4 L2009.2 68.5 L2009 70.5 L2009 72.5 L2009 74.5 L2009.2 76.5 L2009.4 78.6 L2009.6 80.6 L2010 82.6 L2010.4 84.6 L2010.9 86.6 L2011.5 88.7 L2012.2 90.7 L2012.9 92.7 L2013.7 94.7 L2014.5 96.7 L2015.4 98.8 L2016.4 100.8 L2017.4 102.8 L2018.5 104.8 L2019.6 106.8 L2020.8 108.8 L2022 110.9 L2023.2 112.9 L2024.5 114.9 L2025.7 116.9 L2027 118.9 L2028.3 121 L2029.7 123 L2031 125 L2032.7 127 L2034.4 129 L2036.1 131 L2037.7 133 L2039.2 135 L2040.7 137 L2042 139 L2043.2 141 L2044.2 143 L2045.1 145 L2045.9 147 L2046.4 149 L2046.8 151 L2047 153 L2047 155 L2046.8 157 L2046.4 159 L2045.9 161 L2045.1 163 L2044.2 165 L2043.2 167 L2042 169 L2040.7 171 L2039.2 173 L2037.7 175 L2036.1 177 L2034.4 179 L2032.7 181 L2031 183 L2029.4 185 L2027.8 187.1 L2026.2 189.1 L2024.7 191.2 L2023.3 193.2 L2021.9 195.3 L2020.7 197.3 L2019.6 199.4 L2018.6 201.4 L2017.7 203.5 L2017.1 205.5 L2016.5 207.6 L2016.2 209.6 L2016 211.7 L2016 213.7 L2016.2 215.8 L2016.5 217.8 L2017.1 219.9 L2017.7 221.9 L2018.6 224 L2019.6 226 L2020.7 228.1 L2021.9 230.1 L2023.3 232.2 L2024.7 234.2 L2026.2 236.3 L2027.8 238.3 L2029.4 240.4 L2031 242.4 L2032.6 244.4 L2034.2 246.4 L2035.8 248.5 L2037.3 250.5 L2038.8 252.5 L2040.1 254.5 L2041.4 256.5 L2042.6 258.6 L2043.7 260.6 L2044.6 262.6 L2045.4 264.6 L2046 266.6 L2046.5 268.7 L2046.8 270.7 L2047 272.7 L2047 274.7 L2046.8 276.7 L2046.5 278.7 L2046 280.8 L2045.4 282.8 L2044.6 284.8 L2043.7 286.8 L2042.6 288.8 L2041.4 290.9 L2040.1 292.9 L2038.8 294.9 L2037.3 296.9 L2035.8 298.9 L2034.2 301 L2032.6 303 L2031 305 L2029.8 307 L2028.6 309 L2027.4 311 L2026.2 313.1 L2025.1 315.1 L2023.9 317.1 L2022.9 319.1 L2021.8 321.1 L2020.8 323.1 L2019.9 325.2 L2019 327.2 L2018.2 329.2 L2017.4 331.2 L2016.7 333.2 L2016.1 335.2 L2015.5 337.3 L2015.1 339.3 L2014.7 341.3 L2014.4 343.3 L2014.2 345.3 L2014 347.3 L2014 349.4 L2014 351.4 L2014.2 353.4 L2014.4 355.4 L2014.7 357.4 L2015.1 359.4 L2015.5 361.4 L2016.1 363.5 L2016.7 365.5 L2017.4 367.5 L2018.2 369.5 L2019 371.5 L2019.9 373.5 L2020.8 375.6 L2021.8 377.6 L2022.9 379.6 L2023.9 381.6 L2025.1 383.6 L2026.2 385.6 L2027.4 387.7 L2028.6 389.7 L2029.8 391.7 L2031 393.7 L2029.6 396 L2027.8 399 L2026 402 L2024.3 405 L2022.6 408 L2020.9 411 L2019.3 414 L2017.8 417 L2016.4 420 L2015 423 L2013.8 426 L2012.6 429 L2011.6 432 L2010.7 435 L2009.9 438 L2009.3 441 L2008.7 444 L2008.4 447 L2008.1 450 L2008 453 L2008 456 L2008 459 L2008 462 L2008 465 L2008 468 L2008 471 L2008 474 L2008 477 L2008 480 L2008 483 L2008 486 L2008 489 L2008 492 L2008 495 L2008 498 L2008 501 L2008 504 L2008 507 L2008 510 L2008 513 L2008 516 L2008 519 L2008 522 L2008 525 L2008 528 L2008 531 L2008 534 L2008 537" fill="none" stroke="#2960bc" stroke-width="9" stroke-opacity="0.6" stroke-linejoin="round"/><path d="M2031 20 L2032.3 22 L2033.7 24 L2035 26.1 L2036.3 28.1 L2037.5 30.1 L2038.8 32.1 L2040 34.1 L2041.2 36.2 L2042.4 38.2 L2043.5 40.2 L2044.6 42.2 L2045.6 44.2 L2046.6 46.2 L2047.5 48.3 L2048.3 50.3 L2049.1 52.3 L2049.8 54.3 L2050.5 56.3 L2051.1 58.4 L2051.6 60.4 L2052 62.4 L2052.4 64.4 L2052.6 66.4 L2052.8 68.5 L2053 70.5 L2053 72.5 L2053 74.5 L2052.8 76.5 L2052.6 78.6 L2052.4 80.6 L2052 82.6 L2051.6 84.6 L2051.1 86.6 L2050.5 88.7 L2049.8 90.7 L2049.1 92.7 L2048.3 94.7 L2047.5 96.7 L2046.6 98.8 L2045.6 100.8 L2044.6 102.8 L2043.5 104.8 L2042.4 106.8 L2041.2 108.8 L2040 110.9 L2038.8 112.9 L2037.5 114.9 L2036.3 116.9 L2035 118.9 L2033.7 121 L2032.3 123 L2031 125 L2029.3 127 L2027.6 129 L2025.9 131 L2024.3 133 L2022.8 135 L2021.3 137 L2020 139 L2018.8 141 L2017.8 143 L2016.9 145 L2016.1 147 L2015.6 149 L2015.2 151 L2015 153 L2015 155 L2015.2 157 L2015.6 159 L2016.1 161 L2016.9 163 L2017.8 165 L2018.8 167 L2020 169 L2021.3 171 L2022.8 173 L2024.3 175 L2025.9 177 L2027.6 179 L2029.3 181 L2031 183 L2032.6 185 L2034.2 187.1 L2035.8 189.1 L2037.3 191.2 L2038.7 193.2 L2040.1 195.3 L2041.3 197.3 L2042.4 199.4 L2043.4 201.4 L2044.3 203.5 L2044.9 205.5 L2045.5 207.6 L2045.8 209.6 L2046 211.7 L2046 213.7 L2045.8 215.8 L2045.5 217.8 L2044.9 219.9 L2044.3 221.9 L2043.4 224 L2042.4 226 L2041.3 228.1 L2040.1 230.1 L2038.7 232.2 L2037.3 234.2 L2035.8 236.3 L2034.2 238.3 L2032.6 240.4 L2031 242.4 L2029.4 244.4 L2027.8 246.4 L2026.2 248.5 L2024.7 250.5 L2023.2 252.5 L2021.9 254.5 L2020.6 256.5 L2019.4 258.6 L2018.3 260.6 L2017.4 262.6 L2016.6 264.6 L2016 266.6 L2015.5 268.7 L2015.2 270.7 L2015 272.7 L2015 274.7 L2015.2 276.7 L2015.5 278.7 L2016 280.8 L2016.6 282.8 L2017.4 284.8 L2018.3 286.8 L2019.4 288.8 L2020.6 290.9 L2021.9 292.9 L2023.2 294.9 L2024.7 296.9 L2026.2 298.9 L2027.8 301 L2029.4 303 L2031 305 L2032.2 307 L2033.4 309 L2034.6 311 L2035.8 313.1 L2036.9 315.1 L2038.1 317.1 L2039.1 319.1 L2040.2 321.1 L2041.2 323.1 L2042.1 325.2 L2043 327.2 L2043.8 329.2 L2044.6 331.2 L2045.3 333.2 L2045.9 335.2 L2046.5 337.3 L2046.9 339.3 L2047.3 341.3 L2047.6 343.3 L2047.8 345.3 L2048 347.3 L2048 349.4 L2048 351.4 L2047.8 353.4 L2047.6 355.4 L2047.3 357.4 L2046.9 359.4 L2046.5 361.4 L2045.9 363.5 L2045.3 365.5 L2044.6 367.5 L2043.8 369.5 L2043 371.5 L2042.1 373.5 L2041.2 375.6 L2040.2 377.6 L2039.1 379.6 L2038.1 381.6 L2036.9 383.6 L2035.8 385.6 L2034.6 387.7 L2033.4 389.7 L2032.2 391.7 L2031 393.7 L2032.4 396 L2034.2 399 L2036 402 L2037.7 405 L2039.4 408 L2041.1 411 L2042.7 414 L2044.2 417 L2045.6 420 L2047 423 L2048.2 426 L2049.4 429 L2050.4 432 L2051.3 435 L2052.1 438 L2052.7 441 L2053.3 444 L2053.6 447 L2053.9 450 L2054 453 L2054 456 L2054 459 L2054 462 L2054 465 L2054 468 L2054 471 L2054 474 L2054 477 L2054 480 L2054 483 L2054 486 L2054 489 L2054 492 L2054 495 L2054 498 L2054 501 L2054 504 L2054 507 L2054 510 L2054 513 L2054 516 L2054 519 L2054 522 L2054 525 L2054 528 L2054 531 L2054 534 L2054 537" fill="none" stroke="#3db4e6" stroke-width="5" stroke-dasharray="7 19" stroke-linejoin="round"/><path d="M2031 20 L2029.7 22 L2028.3 24 L2027 26.1 L2025.7 28.1 L2024.5 30.1 L2023.2 32.1 L2022 34.1 L2020.8 36.2 L2019.6 38.2 L2018.5 40.2 L2017.4 42.2 L2016.4 44.2 L2015.4 46.2 L2014.5 48.3 L2013.7 50.3 L2012.9 52.3 L2012.2 54.3 L2011.5 56.3 L2010.9 58.4 L2010.4 60.4 L2010 62.4 L2009.6 64.4 L2009.4 66.4 L2009.2 68.5 L2009 70.5 L2009 72.5 L2009 74.5 L2009.2 76.5 L2009.4 78.6 L2009.6 80.6 L2010 82.6 L2010.4 84.6 L2010.9 86.6 L2011.5 88.7 L2012.2 90.7 L2012.9 92.7 L2013.7 94.7 L2014.5 96.7 L2015.4 98.8 L2016.4 100.8 L2017.4 102.8 L2018.5 104.8 L2019.6 106.8 L2020.8 108.8 L2022 110.9 L2023.2 112.9 L2024.5 114.9 L2025.7 116.9 L2027 118.9 L2028.3 121 L2029.7 123 L2031 125 L2032.7 127 L2034.4 129 L2036.1 131 L2037.7 133 L2039.2 135 L2040.7 137 L2042 139 L2043.2 141 L2044.2 143 L2045.1 145 L2045.9 147 L2046.4 149 L2046.8 151 L2047 153 L2047 155 L2046.8 157 L2046.4 159 L2045.9 161 L2045.1 163 L2044.2 165 L2043.2 167 L2042 169 L2040.7 171 L2039.2 173 L2037.7 175 L2036.1 177 L2034.4 179 L2032.7 181 L2031 183 L2029.4 185 L2027.8 187.1 L2026.2 189.1 L2024.7 191.2 L2023.3 193.2 L2021.9 195.3 L2020.7 197.3 L2019.6 199.4 L2018.6 201.4 L2017.7 203.5 L2017.1 205.5 L2016.5 207.6 L2016.2 209.6 L2016 211.7 L2016 213.7 L2016.2 215.8 L2016.5 217.8 L2017.1 219.9 L2017.7 221.9 L2018.6 224 L2019.6 226 L2020.7 228.1 L2021.9 230.1 L2023.3 232.2 L2024.7 234.2 L2026.2 236.3 L2027.8 238.3 L2029.4 240.4 L2031 242.4 L2032.6 244.4 L2034.2 246.4 L2035.8 248.5 L2037.3 250.5 L2038.8 252.5 L2040.1 254.5 L2041.4 256.5 L2042.6 258.6 L2043.7 260.6 L2044.6 262.6 L2045.4 264.6 L2046 266.6 L2046.5 268.7 L2046.8 270.7 L2047 272.7 L2047 274.7 L2046.8 276.7 L2046.5 278.7 L2046 280.8 L2045.4 282.8 L2044.6 284.8 L2043.7 286.8 L2042.6 288.8 L2041.4 290.9 L2040.1 292.9 L2038.8 294.9 L2037.3 296.9 L2035.8 298.9 L2034.2 301 L2032.6 303 L2031 305 L2029.8 307 L2028.6 309 L2027.4 311 L2026.2 313.1 L2025.1 315.1 L2023.9 317.1 L2022.9 319.1 L2021.8 321.1 L2020.8 323.1 L2019.9 325.2 L2019 327.2 L2018.2 329.2 L2017.4 331.2 L2016.7 333.2 L2016.1 335.2 L2015.5 337.3 L2015.1 339.3 L2014.7 341.3 L2014.4 343.3 L2014.2 345.3 L2014 347.3 L2014 349.4 L2014 351.4 L2014.2 353.4 L2014.4 355.4 L2014.7 357.4 L2015.1 359.4 L2015.5 361.4 L2016.1 363.5 L2016.7 365.5 L2017.4 367.5 L2018.2 369.5 L2019 371.5 L2019.9 373.5 L2020.8 375.6 L2021.8 377.6 L2022.9 379.6 L2023.9 381.6 L2025.1 383.6 L2026.2 385.6 L2027.4 387.7 L2028.6 389.7 L2029.8 391.7 L2031 393.7 L2029.6 396 L2027.8 399 L2026 402 L2024.3 405 L2022.6 408 L2020.9 411 L2019.3 414 L2017.8 417 L2016.4 420 L2015 423 L2013.8 426 L2012.6 429 L2011.6 432 L2010.7 435 L2009.9 438 L2009.3 441 L2008.7 444 L2008.4 447 L2008.1 450 L2008 453 L2008 456 L2008 459 L2008 462 L2008 465 L2008 468 L2008 471 L2008 474 L2008 477 L2008 480 L2008 483 L2008 486 L2008 489 L2008 492 L2008 495 L2008 498 L2008 501 L2008 504 L2008 507 L2008 510 L2008 513 L2008 516 L2008 519 L2008 522 L2008 525 L2008 528 L2008 531 L2008 534 L2008 537" fill="none" stroke="#3db4e6" stroke-width="5" stroke-dasharray="7 19" stroke-linejoin="round"/><text x="1858" y="133.6" font-size="50" fill="#e4e0f0" fill-opacity="0.95" text-anchor="start" textLength="193.5" lengthAdjust="spacingAndGlyphs" stroke="#32356f" stroke-width="0.9"><tspan font-style="italic">β</tspan>=0.0002</text><text x="2090" y="133.6" font-size="50" fill="#e4e0f0" fill-opacity="0.95" text-anchor="start" textLength="122" lengthAdjust="spacingAndGlyphs" stroke="#32356f" stroke-width="0.9">C=1.9</text><text x="1858" y="492" font-size="50" fill="#e4e0f0" fill-opacity="0.95" text-anchor="start" textLength="80.6" lengthAdjust="spacingAndGlyphs" stroke="#32356f" stroke-width="0.9">(d1)</text><text x="2128.8" y="492" font-size="50" fill="#e4e0f0" fill-opacity="0.95" text-anchor="start" textLength="83.2" lengthAdjust="spacingAndGlyphs" stroke="#32356f" stroke-width="0.9">B=3</text></svg></div>
<div class="panel" id="p-a2" style="left:166.5px;top:588px;width:404.5px;height:489px;border-color:#54545c #8c8678 #c8c8c8 #4c4c54;box-shadow:inset 0 -3px 0 rgba(62,64,88,0.85)">
<svg width="404.5" height="489" viewBox="166.5 588 404.5 489"><rect x="362.7" y="592" width="8" height="481" fill="#2b3d8c" fill-opacity="1"/><path d="M223 590 L328.9 960 L345.9 1026 L351 1040 L354.6 1050 L357 1057 L360 1062 L363.5 1065.5 L367 1066.8 L370.5 1065.5 L374 1062 L377 1057 L379.4 1050 L383 1040 L388.1 1026 L405.1 960 L510.5 590" fill="none" stroke="#2857a8" stroke-width="11" stroke-opacity="0.42" stroke-linejoin="round"/><path d="M223 590 L328.9 960 L345.9 1026 L351 1040 L354.6 1050 L357 1057 L360 1062 L363.5 1065.5 L367 1066.8 L370.5 1065.5 L374 1062 L377 1057 L379.4 1050 L383 1040 L388.1 1026 L405.1 960 L510.5 590" fill="none" stroke="#2e96d8" stroke-width="4" stroke-opacity="1" stroke-linejoin="round" stroke-linecap="butt"/><text x="197" y="683" font-size="56" fill="#e4e0f0" fill-opacity="0.95" text-anchor="start" textLength="91" lengthAdjust="spacingAndGlyphs" stroke="#32356f" stroke-width="0.9"><tspan font-style="italic">β</tspan>=0</text><text x="425.8" y="683" font-size="56" fill="#e4e0f0" fill-opacity="0.95" text-anchor="start" textLength="132" lengthAdjust="spacingAndGlyphs" stroke="#32356f" stroke-width="0.9">C=1.1</text><text x="195.5" y="1034.7" font-size="56" fill="#e4e0f0" fill-opacity="0.95" text-anchor="start" textLength="89.5" lengthAdjust="spacingAndGlyphs" stroke="#32356f" stroke-width="0.9">(a2)</text><text x="462" y="1034.7" font-size="56" fill="#e4e0f0" fill-opacity="0.95" text-anchor="start" textLength="95.7" lengthAdjust="spacingAndGlyphs" stroke="#32356f" stroke-width="0.9">B=0</text></svg></div>
<div class="panel" id="p-b2" style="left:711px;top:588px;width:416.5px;height:502px;border-color:#5e5e66 #a8a4a4 #8a8684 #8c8c92">
<svg width="416.5" height="502" viewBox="711 588 416.5 502"><rect x="913.5" y="592" width="8" height="494" fill="#2b3d8c" fill-opacity="0.5"/><path d="M810.3 590 L808.7 647.5 L813.5 688.5 L832.4 738.9 L836 764" fill="none" stroke="#2857a8" stroke-width="11" stroke-opacity="0.42" stroke-linejoin="round"/><path d="M810.3 590 L808.7 647.5 L813.5 688.5 L832.4 738.9 L836 764" fill="none" stroke="#2a74cc" stroke-width="4" stroke-opacity="1" stroke-linejoin="round" stroke-linecap="butt"/><path d="M1024.6 590 L1026 638 L1021.5 682 L1002.5 732.6 L996 764" fill="none" stroke="#2857a8" stroke-width="11" stroke-opacity="0.42" stroke-linejoin="round"/><path d="M1024.6 590 L1026 638 L1021.5 682 L1002.5 732.6 L996 764" fill="none" stroke="#2a74cc" stroke-width="4" stroke-opacity="1" stroke-linejoin="round" stroke-linecap="butt"/><path d="M836 764 L834.9 802 L848 833.4 L854.4 877.5 L876.5 953 L901.7 1032 L918 1085" fill="none" stroke="#2857a8" stroke-width="11" stroke-opacity="0.42" stroke-linejoin="round"/><path d="M836 764 L834.9 802 L848 833.4 L854.4 877.5 L876.5 953 L901.7 1032 L918 1085" fill="none" stroke="#2c88d4" stroke-width="4" stroke-opacity="1" stroke-linejoin="round" stroke-linecap="butt"/><path d="M996 764 L999.4 802 L985 833.4 L980.5 877.5 L960 953 L934.8 1032 L918 1085" fill="none" stroke="#2857a8" stroke-width="11" stroke-opacity="0.42" stroke-linejoin="round"/><path d="M996 764 L999.4 802 L985 833.4 L980.5 877.5 L960 953 L934.8 1032 L918 1085" fill="none" stroke="#2c88d4" stroke-width="4" stroke-opacity="1" stroke-linejoin="round" stroke-linecap="butt"/><text x="742.5" y="683.7" font-size="45" fill="#e4e0f0" fill-opacity="0.95" text-anchor="start" textLength="75.5" lengthAdjust="spacingAndGlyphs" stroke="#32356f" stroke-width="0.9"><tspan font-style="italic">β</tspan>=0</text><text x="977.3" y="683.7" font-size="45" fill="#e4e0f0" fill-opacity="0.95" text-anchor="start" textLength="113.5" lengthAdjust="spacingAndGlyphs" stroke="#32356f" stroke-width="0.9">C=1.4</text><text x="742.5" y="1044.6" font-size="45" fill="#e4e0f0" fill-opacity="0.95" text-anchor="start" textLength="77.3" lengthAdjust="spacingAndGlyphs" stroke="#32356f" stroke-width="0.9">(b2)</text><text x="1016.7" y="1044.6" font-size="45" fill="#e4e0f0" fill-opacity="0.95" text-anchor="start" textLength="74" lengthAdjust="spacingAndGlyphs" stroke="#32356f" stroke-width="0.9">B=1</text></svg></div>
<div class="panel" id="p-c2" style="left:1280.5px;top:588px;width:404.5px;height:489px;border-color:#5e5e66 #c4c4c0 #c0c0c0 #54545c;box-shadow:inset 0 -3px 0 rgba(62,64,88,0.85)">
<svg width="404.5" height="489" viewBox="1280.5 588 404.5 489"><rect x="1475" y="655" width="8" height="245" fill="#2b3d8c" fill-opacity="0.7"/><path d="M1335.5 590 L1480.4 966" fill="none" stroke="#2857a8" stroke-width="11" stroke-opacity="0.42" stroke-linejoin="round"/><path d="M1335.5 590 L1480.4 966" fill="none" stroke="#2a74cc" stroke-width="4" stroke-opacity="1" stroke-linejoin="round" stroke-linecap="butt"/><path d="M1622.8 590 L1480.4 966" fill="none" stroke="#2857a8" stroke-width="11" stroke-opacity="0.42" stroke-linejoin="round"/><path d="M1622.8 590 L1480.4 966" fill="none" stroke="#2a74cc" stroke-width="4" stroke-opacity="1" stroke-linejoin="round" stroke-linecap="butt"/><rect x="1461.4" y="968" width="38" height="105" fill="#2552a8" fill-opacity="0.5"/><path d="M1480.4 966 L1483.5 968.1 L1486.1 970.2 L1487.8 972.4 L1488.4 974.5 L1487.8 976.6 L1486.1 978.8 L1483.5 980.9 L1480.4 983 L1477.4 985 L1474.9 987 L1473.6 989 L1473.6 991 L1474.9 993 L1477.4 995 L1480.4 997 L1483.5 999.2 L1486.2 1001.3 L1488.2 1003.5 L1489.3 1005.7 L1489.3 1007.8 L1488.2 1010 L1486.2 1012.2 L1483.5 1014.3 L1480.4 1016.5 L1477.1 1018.6 L1474.4 1020.6 L1472.5 1022.7 L1471.9 1024.8 L1472.5 1026.8 L1474.4 1028.9 L1477.1 1030.9 L1480.4 1033 L1483.2 1035.1 L1485.7 1037.2 L1487.7 1039.3 L1489 1041.4 L1489.4 1043.5 L1489 1045.6 L1487.7 1047.7 L1485.7 1049.8 L1483.2 1051.9 L1480.4 1054 L1477.6 1056 L1475.1 1058 L1473.1 1060 L1471.8 1062 L1471.4 1064 L1471.8 1066 L1473.1 1068 L1475.1 1070 L1477.6 1072 L1480.4 1074" fill="none" stroke="#2857a8" stroke-width="9" stroke-opacity="0.3" stroke-linejoin="round"/><path d="M1480.4 966 L1483.5 968.1 L1486.1 970.2 L1487.8 972.4 L1488.4 974.5 L1487.8 976.6 L1486.1 978.8 L1483.5 980.9 L1480.4 983 L1477.4 985 L1474.9 987 L1473.6 989 L1473.6 991 L1474.9 993 L1477.4 995 L1480.4 997 L1483.5 999.2 L1486.2 1001.3 L1488.2 1003.5 L1489.3 1005.7 L1489.3 1007.8 L1488.2 1010 L1486.2 1012.2 L1483.5 1014.3 L1480.4 1016.5 L1477.1 1018.6 L1474.4 1020.6 L1472.5 1022.7 L1471.9 1024.8 L1472.5 1026.8 L1474.4 1028.9 L1477.1 1030.9 L1480.4 1033 L1483.2 1035.1 L1485.7 1037.2 L1487.7 1039.3 L1489 1041.4 L1489.4 1043.5 L1489 1045.6 L1487.7 1047.7 L1485.7 1049.8 L1483.2 1051.9 L1480.4 1054 L1477.6 1056 L1475.1 1058 L1473.1 1060 L1471.8 1062 L1471.4 1064 L1471.8 1066 L1473.1 1068 L1475.1 1070 L1477.6 1072 L1480.4 1074" fill="none" stroke="#2b7ad0" stroke-width="3.2" stroke-opacity="1" stroke-linejoin="round" stroke-linecap="butt"/><path d="M1480.4 966 L1477.3 968.1 L1474.7 970.2 L1473 972.4 L1472.4 974.5 L1473 976.6 L1474.7 978.8 L1477.3 980.9 L1480.4 983 L1483.4 985 L1485.9 987 L1487.2 989 L1487.2 991 L1485.9 993 L1483.4 995 L1480.4 997 L1477.3 999.2 L1474.6 1001.3 L1472.6 1003.5 L1471.5 1005.7 L1471.5 1007.8 L1472.6 1010 L1474.6 1012.2 L1477.3 1014.3 L1480.4 1016.5 L1483.7 1018.6 L1486.4 1020.6 L1488.3 1022.7 L1488.9 1024.8 L1488.3 1026.8 L1486.4 1028.9 L1483.7 1030.9 L1480.4 1033 L1477.6 1035.1 L1475.1 1037.2 L1473.1 1039.3 L1471.8 1041.4 L1471.4 1043.5 L1471.8 1045.6 L1473.1 1047.7 L1475.1 1049.8 L1477.6 1051.9 L1480.4 1054 L1483.2 1056 L1485.7 1058 L1487.7 1060 L1489 1062 L1489.4 1064 L1489 1066 L1487.7 1068 L1485.7 1070 L1483.2 1072 L1480.4 1074" fill="none" stroke="#2857a8" stroke-width="9" stroke-opacity="0.3" stroke-linejoin="round"/><path d="M1480.4 966 L1477.3 968.1 L1474.7 970.2 L1473 972.4 L1472.4 974.5 L1473 976.6 L1474.7 978.8 L1477.3 980.9 L1480.4 983 L1483.4 985 L1485.9 987 L1487.2 989 L1487.2 991 L1485.9 993 L1483.4 995 L1480.4 997 L1477.3 999.2 L1474.6 1001.3 L1472.6 1003.5 L1471.5 1005.7 L1471.5 1007.8 L1472.6 1010 L1474.6 1012.2 L1477.3 1014.3 L1480.4 1016.5 L1483.7 1018.6 L1486.4 1020.6 L1488.3 1022.7 L1488.9 1024.8 L1488.3 1026.8 L1486.4 1028.9 L1483.7 1030.9 L1480.4 1033 L1477.6 1035.1 L1475.1 1037.2 L1473.1 1039.3 L1471.8 1041.4 L1471.4 1043.5 L1471.8 1045.6 L1473.1 1047.7 L1475.1 1049.8 L1477.6 1051.9 L1480.4 1054 L1483.2 1056 L1485.7 1058 L1487.7 1060 L1489 1062 L1489.4 1064 L1489 1066 L1487.7 1068 L1485.7 1070 L1483.2 1072 L1480.4 1074" fill="none" stroke="#2b7ad0" stroke-width="3.2" stroke-opacity="1" stroke-linejoin="round" stroke-linecap="butt"/><path d="M1480.4 1036 V1050" stroke="#2e9ad8" stroke-width="4.4" fill="none"/><path d="M1463.4 1036 V1052 M1497.4 1036 V1052" stroke="#2a62c0" stroke-width="7" stroke-opacity="0.8" fill="none"/><text x="1311" y="684.6" font-size="56" fill="#e4e0f0" fill-opacity="0.95" text-anchor="start" textLength="91" lengthAdjust="spacingAndGlyphs" stroke="#32356f" stroke-width="0.9"><tspan font-style="italic">β</tspan>=0</text><text x="1538" y="684.6" font-size="56" fill="#e4e0f0" fill-opacity="0.95" text-anchor="start" textLength="138" lengthAdjust="spacingAndGlyphs" stroke="#32356f" stroke-width="0.9">C=2.2</text><text x="1309" y="1034.7" font-size="56" fill="#e4e0f0" fill-opacity="0.95" text-anchor="start" textLength="91" lengthAdjust="spacingAndGlyphs" stroke="#32356f" stroke-width="0.9">(c2)</text><text x="1576" y="1034.7" font-size="56" fill="#e4e0f0" fill-opacity="0.95" text-anchor="start" textLength="97" lengthAdjust="spacingAndGlyphs" stroke="#32356f" stroke-width="0.9">B=2</text></svg></div>
<div class="panel" id="p-d2" style="left:1833px;top:588px;width:405px;height:489px;border-color:#6a6a70 #5a5a64 #c4c4c4 #8c8890;box-shadow:inset 0 -3px 0 rgba(62,64,88,0.85)">
<svg width="405" height="489" viewBox="1833 588 405 489"><rect x="2019" y="592" width="30" height="353" fill="#2b3f8c" fill-opacity="0.6"/><path d="M2026.6 948 L2025.2 951 L2023.8 954 L2022.5 957 L2021.2 960 L2020 963 L2018.8 966 L2017.7 969 L2016.7 972 L2015.8 975 L2014.9 978 L2014.2 981 L2013.5 984 L2012.9 987 L2012.5 990 L2012.1 993 L2011.8 996 L2011.6 999 L2011.5 1002 L2011.5 1005 L2011.5 1008 L2011.5 1011 L2011.5 1014 L2011.5 1017 L2011.5 1020 L2011.5 1023 L2011.5 1026 L2011.5 1029 L2011.5 1032 L2011.5 1035 L2011.5 1038 L2011.5 1041 L2011.5 1044 L2011.5 1047 L2011.5 1050 L2011.5 1053 L2011.5 1056 L2011.5 1059 L2011.5 1062 L2011.5 1065 L2011.5 1068 L2011.5 1071 L2011.5 1074 L2056.5 1074 L2056.5 1071 L2056.5 1068 L2056.5 1065 L2056.5 1062 L2056.5 1059 L2056.5 1056 L2056.5 1053 L2056.5 1050 L2056.5 1047 L2056.5 1044 L2056.5 1041 L2056.5 1038 L2056.5 1035 L2056.5 1032 L2056.5 1029 L2056.5 1026 L2056.5 1023 L2056.5 1020 L2056.5 1017 L2056.5 1014 L2056.5 1011 L2056.5 1008 L2056.5 1005 L2056.5 1002 L2056.4 999 L2056.2 996 L2055.9 993 L2055.5 990 L2055.1 987 L2054.5 984 L2053.8 981 L2053.1 978 L2052.2 975 L2051.3 972 L2050.3 969 L2049.2 966 L2048 963 L2046.8 960 L2045.5 957 L2044.2 954 L2042.8 951 L2041.4 948Z" fill="#2654a8" fill-opacity="0.85"/><path d="M2035.5 936 L2037 939 L2038.5 942 L2040 945 L2041.4 948 L2042.8 951 L2044.2 954 L2045.5 957 L2046.8 960 L2048 963 L2049.2 966 L2050.3 969 L2051.3 972 L2052.2 975 L2053.1 978 L2053.8 981 L2054.5 984 L2055.1 987 L2055.5 990 L2055.9 993 L2056.2 996 L2056.4 999 L2056.5 1002 L2056.5 1005 L2056.5 1008 L2056.5 1011 L2056.5 1014 L2056.5 1017 L2056.5 1020 L2056.5 1023 L2056.5 1026 L2056.5 1029 L2056.5 1032 L2056.5 1035 L2056.5 1038 L2056.5 1041 L2056.5 1044 L2056.5 1047 L2056.5 1050 L2056.5 1053 L2056.5 1056 L2056.5 1059 L2056.5 1062 L2056.5 1065 L2056.5 1068 L2056.5 1071 L2056.5 1074 L2056.5 1077" fill="none" stroke="#2552a8" stroke-width="24" stroke-opacity="0.8" stroke-linejoin="round" stroke-linecap="round"/><path d="M2032.5 936 L2031 939 L2029.5 942 L2028 945 L2026.6 948 L2025.2 951 L2023.8 954 L2022.5 957 L2021.2 960 L2020 963 L2018.8 966 L2017.7 969 L2016.7 972 L2015.8 975 L2014.9 978 L2014.2 981 L2013.5 984 L2012.9 987 L2012.5 990 L2012.1 993 L2011.8 996 L2011.6 999 L2011.5 1002 L2011.5 1005 L2011.5 1008 L2011.5 1011 L2011.5 1014 L2011.5 1017 L2011.5 1020 L2011.5 1023 L2011.5 1026 L2011.5 1029 L2011.5 1032 L2011.5 1035 L2011.5 1038 L2011.5 1041 L2011.5 1044 L2011.5 1047 L2011.5 1050 L2011.5 1053 L2011.5 1056 L2011.5 1059 L2011.5 1062 L2011.5 1065 L2011.5 1068 L2011.5 1071 L2011.5 1074 L2011.5 1077" fill="none" stroke="#2552a8" stroke-width="24" stroke-opacity="0.8" stroke-linejoin="round" stroke-linecap="round"/><path d="M2035.5 936 L2037 939 L2038.5 942 L2040 945 L2041.4 948 L2042.8 951 L2044.2 954 L2045.5 957 L2046.8 960 L2048 963 L2049.2 966 L2050.3 969 L2051.3 972 L2052.2 975 L2053.1 978 L2053.8 981 L2054.5 984 L2055.1 987 L2055.5 990 L2055.9 993 L2056.2 996 L2056.4 999 L2056.5 1002 L2056.5 1005 L2056.5 1008 L2056.5 1011 L2056.5 1014 L2056.5 1017 L2056.5 1020 L2056.5 1023 L2056.5 1026 L2056.5 1029 L2056.5 1032 L2056.5 1035 L2056.5 1038 L2056.5 1041 L2056.5 1044 L2056.5 1047 L2056.5 1050 L2056.5 1053 L2056.5 1056 L2056.5 1059 L2056.5 1062 L2056.5 1065 L2056.5 1068 L2056.5 1071 L2056.5 1074 L2056.5 1077" fill="none" stroke="#2960bc" stroke-width="9" stroke-opacity="0.6" stroke-linejoin="round"/><path d="M2032.5 936 L2031 939 L2029.5 942 L2028 945 L2026.6 948 L2025.2 951 L2023.8 954 L2022.5 957 L2021.2 960 L2020 963 L2018.8 966 L2017.7 969 L2016.7 972 L2015.8 975 L2014.9 978 L2014.2 981 L2013.5 984 L2012.9 987 L2012.5 990 L2012.1 993 L2011.8 996 L2011.6 999 L2011.5 1002 L2011.5 1005 L2011.5 1008 L2011.5 1011 L2011.5 1014 L2011.5 1017 L2011.5 1020 L2011.5 1023 L2011.5 1026 L2011.5 1029 L2011.5 1032 L2011.5 1035 L2011.5 1038 L2011.5 1041 L2011.5 1044 L2011.5 1047 L2011.5 1050 L2011.5 1053 L2011.5 1056 L2011.5 1059 L2011.5 1062 L2011.5 1065 L2011.5 1068 L2011.5 1071 L2011.5 1074 L2011.5 1077" fill="none" stroke="#2960bc" stroke-width="9" stroke-opacity="0.6" stroke-linejoin="round"/><path d="M2035.5 936 L2037 939 L2038.5 942 L2040 945 L2041.4 948 L2042.8 951 L2044.2 954 L2045.5 957 L2046.8 960 L2048 963 L2049.2 966 L2050.3 969 L2051.3 972 L2052.2 975 L2053.1 978 L2053.8 981 L2054.5 984 L2055.1 987 L2055.5 990 L2055.9 993 L2056.2 996 L2056.4 999 L2056.5 1002 L2056.5 1005 L2056.5 1008 L2056.5 1011 L2056.5 1014 L2056.5 1017 L2056.5 1020 L2056.5 1023 L2056.5 1026 L2056.5 1029 L2056.5 1032 L2056.5 1035 L2056.5 1038 L2056.5 1041 L2056.5 1044 L2056.5 1047 L2056.5 1050 L2056.5 1053 L2056.5 1056 L2056.5 1059 L2056.5 1062 L2056.5 1065 L2056.5 1068 L2056.5 1071 L2056.5 1074 L2056.5 1077" fill="none" stroke="#3db4e6" stroke-width="5" stroke-dasharray="7 19" stroke-linejoin="round"/><path d="M2032.5 936 L2031 939 L2029.5 942 L2028 945 L2026.6 948 L2025.2 951 L2023.8 954 L2022.5 957 L2021.2 960 L2020 963 L2018.8 966 L2017.7 969 L2016.7 972 L2015.8 975 L2014.9 978 L2014.2 981 L2013.5 984 L2012.9 987 L2012.5 990 L2012.1 993 L2011.8 996 L2011.6 999 L2011.5 1002 L2011.5 1005 L2011.5 1008 L2011.5 1011 L2011.5 1014 L2011.5 1017 L2011.5 1020 L2011.5 1023 L2011.5 1026 L2011.5 1029 L2011.5 1032 L2011.5 1035 L2011.5 1038 L2011.5 1041 L2011.5 1044 L2011.5 1047 L2011.5 1050 L2011.5 1053 L2011.5 1056 L2011.5 1059 L2011.5 1062 L2011.5 1065 L2011.5 1068 L2011.5 1071 L2011.5 1074 L2011.5 1077" fill="none" stroke="#3db4e6" stroke-width="5" stroke-dasharray="7 19" stroke-linejoin="round"/><path d="M1959.5 588 L1960.5 592.9 L1961.7 599.2 L1963.2 606.5 L1964.9 614.8 L1966.7 623.8 L1968.5 633.2 L1970.4 642.9 L1972.3 652.6 L1974.1 662 L1975.7 671 L1977.3 679.8 L1978.8 688.7 L1980.4 697.7 L1981.9 706.8 L1983.4 716 L1984.9 725.2 L1986.4 734.5 L1987.9 743.7 L1989.4 752.9 L1990.8 762 L1992.2 771.2 L1993.6 780.7 L1994.9 790.4 L1996.2 800 L1997.6 809.6 L1998.9 819.1 L2000.2 828.2 L2001.6 836.9 L2003 845.2 L2004.5 852.8 L2006.1 859.9 L2007.7 866.6 L2009.4 872.9 L2011.1 878.9 L2012.8 884.5 L2014.5 889.8 L2016.2 894.8 L2017.9 899.5 L2019.5 903.9 L2021 908 L2022.5 911.8 L2024 915.3 L2025.6 918.5 L2027.1 921.4 L2028.5 924 L2029.9 926.2 L2031.2 928.3 L2032.3 930.1 L2033.2 931.6 L2034 933" fill="none" stroke="#2552a8" stroke-width="17" stroke-opacity="0.6" stroke-linejoin="round" stroke-linecap="round"/><path d="M2111 588 L2110 592.9 L2108.7 599.2 L2107.1 606.5 L2105.4 614.8 L2103.5 623.8 L2101.5 633.2 L2099.6 642.9 L2097.6 652.6 L2095.7 662 L2094 671 L2092.4 679.8 L2090.7 688.7 L2089.1 697.7 L2087.4 706.8 L2085.8 716 L2084.2 725.2 L2082.6 734.5 L2081.1 743.7 L2079.5 752.9 L2078 762 L2076.5 771.2 L2075.1 780.7 L2073.7 790.4 L2072.4 800 L2071.1 809.6 L2069.7 819.1 L2068.4 828.2 L2067 836.9 L2065.5 845.2 L2064 852.8 L2062.4 859.9 L2060.7 866.6 L2059 872.9 L2057.2 878.9 L2055.4 884.5 L2053.7 889.8 L2051.9 894.8 L2050.2 899.5 L2048.6 903.9 L2047 908 L2045.5 911.8 L2043.9 915.3 L2042.4 918.5 L2040.9 921.4 L2039.4 924 L2038.1 926.2 L2036.8 928.3 L2035.7 930.1 L2034.8 931.6 L2034 933" fill="none" stroke="#2552a8" stroke-width="17" stroke-opacity="0.6" stroke-linejoin="round" stroke-linecap="round"/><path d="M1959.5 588 L1960.5 592.9 L1961.7 599.2 L1963.2 606.5 L1964.9 614.8 L1966.7 623.8 L1968.5 633.2 L1970.4 642.9 L1972.3 652.6 L1974.1 662 L1975.7 671 L1977.3 679.8 L1978.8 688.7 L1980.4 697.7 L1981.9 706.8 L1983.4 716 L1984.9 725.2 L1986.4 734.5 L1987.9 743.7 L1989.4 752.9 L1990.8 762 L1992.2 771.2 L1993.6 780.7 L1994.9 790.4 L1996.2 800 L1997.6 809.6 L1998.9 819.1 L2000.2 828.2 L2001.6 836.9 L2003 845.2 L2004.5 852.8 L2006.1 859.9 L2007.7 866.6 L2009.4 872.9 L2011.1 878.9 L2012.8 884.5 L2014.5 889.8 L2016.2 894.8 L2017.9 899.5 L2019.5 903.9 L2021 908 L2022.5 911.8 L2024 915.3 L2025.6 918.5 L2027.1 921.4 L2028.5 924 L2029.9 926.2 L2031.2 928.3 L2032.3 930.1 L2033.2 931.6 L2034 933" fill="none" stroke="#2960bc" stroke-width="9" stroke-opacity="0.7" stroke-linejoin="round"/><path d="M2111 588 L2110 592.9 L2108.7 599.2 L2107.1 606.5 L2105.4 614.8 L2103.5 623.8 L2101.5 633.2 L2099.6 642.9 L2097.6 652.6 L2095.7 662 L2094 671 L2092.4 679.8 L2090.7 688.7 L2089.1 697.7 L2087.4 706.8 L2085.8 716 L2084.2 725.2 L2082.6 734.5 L2081.1 743.7 L2079.5 752.9 L2078 762 L2076.5 771.2 L2075.1 780.7 L2073.7 790.4 L2072.4 800 L2071.1 809.6 L2069.7 819.1 L2068.4 828.2 L2067 836.9 L2065.5 845.2 L2064 852.8 L2062.4 859.9 L2060.7 866.6 L2059 872.9 L2057.2 878.9 L2055.4 884.5 L2053.7 889.8 L2051.9 894.8 L2050.2 899.5 L2048.6 903.9 L2047 908 L2045.5 911.8 L2043.9 915.3 L2042.4 918.5 L2040.9 921.4 L2039.4 924 L2038.1 926.2 L2036.8 928.3 L2035.7 930.1 L2034.8 931.6 L2034 933" fill="none" stroke="#2960bc" stroke-width="9" stroke-opacity="0.7" stroke-linejoin="round"/><path d="M1959.5 588 L1960.5 592.9 L1961.7 599.2 L1963.2 606.5 L1964.9 614.8 L1966.7 623.8 L1968.5 633.2 L1970.4 642.9 L1972.3 652.6 L1974.1 662 L1975.7 671 L1977.3 679.8 L1978.8 688.7 L1980.4 697.7 L1981.9 706.8 L1983.4 716 L1984.9 725.2 L1986.4 734.5 L1987.9 743.7 L1989.4 752.9 L1990.8 762 L1992.2 771.2 L1993.6 780.7 L1994.9 790.4 L1996.2 800 L1997.6 809.6 L1998.9 819.1 L2000.2 828.2 L2001.6 836.9 L2003 845.2 L2004.5 852.8 L2006.1 859.9 L2007.7 866.6 L2009.4 872.9 L2011.1 878.9 L2012.8 884.5 L2014.5 889.8 L2016.2 894.8 L2017.9 899.5 L2019.5 903.9 L2021 908 L2022.5 911.8 L2024 915.3 L2025.6 918.5 L2027.1 921.4 L2028.5 924 L2029.9 926.2 L2031.2 928.3 L2032.3 930.1 L2033.2 931.6 L2034 933" fill="none" stroke="#2f8fda" stroke-width="5" stroke-linejoin="round"/><path d="M2111 588 L2110 592.9 L2108.7 599.2 L2107.1 606.5 L2105.4 614.8 L2103.5 623.8 L2101.5 633.2 L2099.6 642.9 L2097.6 652.6 L2095.7 662 L2094 671 L2092.4 679.8 L2090.7 688.7 L2089.1 697.7 L2087.4 706.8 L2085.8 716 L2084.2 725.2 L2082.6 734.5 L2081.1 743.7 L2079.5 752.9 L2078 762 L2076.5 771.2 L2075.1 780.7 L2073.7 790.4 L2072.4 800 L2071.1 809.6 L2069.7 819.1 L2068.4 828.2 L2067 836.9 L2065.5 845.2 L2064 852.8 L2062.4 859.9 L2060.7 866.6 L2059 872.9 L2057.2 878.9 L2055.4 884.5 L2053.7 889.8 L2051.9 894.8 L2050.2 899.5 L2048.6 903.9 L2047 908 L2045.5 911.8 L2043.9 915.3 L2042.4 918.5 L2040.9 921.4 L2039.4 924 L2038.1 926.2 L2036.8 928.3 L2035.7 930.1 L2034.8 931.6 L2034 933" fill="none" stroke="#2f8fda" stroke-width="5" stroke-linejoin="round"/><path d="M1959.5 588 L1960.5 592.9 L1961.7 599.2 L1963.2 606.5 L1964.9 614.8 L1966.7 623.8 L1968.5 633.2 L1970.4 642.9 L1972.3 652.6 L1974.1 662 L1975.7 671 L1977.3 679.8 L1978.8 688.7 L1980.4 697.7 L1981.9 706.8 L1983.4 716 L1984.9 725.2 L1986.4 734.5 L1987.9 743.7 L1989.4 752.9 L1990.8 762 L1992.2 771.2 L1993.6 780.7 L1994.9 790.4 L1996.2 800 L1997.6 809.6 L1998.9 819.1 L2000.2 828.2 L2001.6 836.9 L2003 845.2 L2004.5 852.8 L2006.1 859.9 L2007.7 866.6 L2009.4 872.9 L2011.1 878.9 L2012.8 884.5 L2014.5 889.8 L2016.2 894.8 L2017.9 899.5 L2019.5 903.9 L2021 908 L2022.5 911.8 L2024 915.3 L2025.6 918.5 L2027.1 921.4 L2028.5 924 L2029.9 926.2 L2031.2 928.3 L2032.3 930.1 L2033.2 931.6 L2034 933" fill="none" stroke="#38a8e2" stroke-width="5" stroke-dasharray="5 22" stroke-linejoin="round"/><path d="M2111 588 L2110 592.9 L2108.7 599.2 L2107.1 606.5 L2105.4 614.8 L2103.5 623.8 L2101.5 633.2 L2099.6 642.9 L2097.6 652.6 L2095.7 662 L2094 671 L2092.4 679.8 L2090.7 688.7 L2089.1 697.7 L2087.4 706.8 L2085.8 716 L2084.2 725.2 L2082.6 734.5 L2081.1 743.7 L2079.5 752.9 L2078 762 L2076.5 771.2 L2075.1 780.7 L2073.7 790.4 L2072.4 800 L2071.1 809.6 L2069.7 819.1 L2068.4 828.2 L2067 836.9 L2065.5 845.2 L2064 852.8 L2062.4 859.9 L2060.7 866.6 L2059 872.9 L2057.2 878.9 L2055.4 884.5 L2053.7 889.8 L2051.9 894.8 L2050.2 899.5 L2048.6 903.9 L2047 908 L2045.5 911.8 L2043.9 915.3 L2042.4 918.5 L2040.9 921.4 L2039.4 924 L2038.1 926.2 L2036.8 928.3 L2035.7 930.1 L2034.8 931.6 L2034 933" fill="none" stroke="#38a8e2" stroke-width="5" stroke-dasharray="5 22" stroke-linejoin="round"/><text x="1863.5" y="684.6" font-size="56" fill="#e4e0f0" fill-opacity="0.95" text-anchor="start" textLength="91" lengthAdjust="spacingAndGlyphs" stroke="#32356f" stroke-width="0.9"><tspan font-style="italic">β</tspan>=0</text><text x="2093.9" y="684.6" font-size="56" fill="#e4e0f0" fill-opacity="0.95" text-anchor="start" textLength="136.4" lengthAdjust="spacingAndGlyphs" stroke="#32356f" stroke-width="0.9">C=1.9</text><text x="1863.5" y="1034.7" font-size="56" fill="#e4e0f0" fill-opacity="0.95" text-anchor="start" textLength="92.5" lengthAdjust="spacingAndGlyphs" stroke="#32356f" stroke-width="0.9">(d2)</text><text x="2131.8" y="1034.7" font-size="56" fill="#e4e0f0" fill-opacity="0.95" text-anchor="start" textLength="92.2" lengthAdjust="spacingAndGlyphs" stroke="#32356f" stroke-width="0.9">B=3</text></svg></div>
<div class="panel" id="p-a3" style="left:167.3px;top:1136.7px;width:403.7px;height:488.9px;border-color:#8c8c88 #8c8884 #bcb8b8 #b4b4b0">
<svg width="403.7" height="488.9" viewBox="167.3 1136.7 403.7 488.9"><path d="M160 1376 L367.3 1615 L575 1376.7" fill="none" stroke="#2857a8" stroke-width="9" stroke-opacity="0.42" stroke-linejoin="round"/><path d="M160 1376 L367.3 1615 L575 1376.7" fill="none" stroke="#3ca2dc" stroke-width="3.4" stroke-opacity="1" stroke-linejoin="round" stroke-linecap="butt"/><text x="197.4" y="1235" font-size="56" fill="#e4e0f0" fill-opacity="0.95" text-anchor="start" textLength="216" lengthAdjust="spacingAndGlyphs" stroke="#32356f" stroke-width="0.9"><tspan font-style="italic">β</tspan>=-0.002</text><text x="427" y="1235" font-size="56" fill="#e4e0f0" fill-opacity="0.95" text-anchor="start" textLength="134.7" lengthAdjust="spacingAndGlyphs" stroke="#32356f" stroke-width="0.9">C=1.1</text><text x="199" y="1584" font-size="56" fill="#e4e0f0" fill-opacity="0.95" text-anchor="start" textLength="91.8" lengthAdjust="spacingAndGlyphs" stroke="#32356f" stroke-width="0.9">(a3)</text><text x="465.3" y="1584" font-size="56" fill="#e4e0f0" fill-opacity="0.95" text-anchor="start" textLength="96.4" lengthAdjust="spacingAndGlyphs" stroke="#32356f" stroke-width="0.9">B=0</text></svg></div>
<div class="panel" id="p-b3" style="left:715.3px;top:1136.7px;width:412.2px;height:497.3px;border-color:#8c8c88 #a8a4a0 #c0bcbc #c8c4c0;box-shadow:inset 0 -3px 0 rgba(62,64,88,0.85)">
<svg width="412.2" height="497.3" viewBox="715.3 1136.7 412.2 497.3"><rect x="920" y="1141" width="6" height="489" fill="#2b3d8c" fill-opacity="0.5"/><path d="M712 1231.5 L920 1627 L1131 1227" fill="none" stroke="#2857a8" stroke-width="9" stroke-opacity="0.42" stroke-linejoin="round"/><path d="M712 1231.5 L920 1627 L1131 1227" fill="none" stroke="#2c84d2" stroke-width="3.3" stroke-opacity="1" stroke-linejoin="round" stroke-linecap="butt"/><text x="746.8" y="1234" font-size="50" fill="#e4e0f0" fill-opacity="0.95" text-anchor="start" textLength="217" lengthAdjust="spacingAndGlyphs" stroke="#32356f" stroke-width="0.9"><tspan font-style="italic">β</tspan>=-0.0001</text><text x="981" y="1234" font-size="50" fill="#e4e0f0" fill-opacity="0.95" text-anchor="start" textLength="126.3" lengthAdjust="spacingAndGlyphs" stroke="#32356f" stroke-width="0.9">C=1.4</text><text x="746.8" y="1590" font-size="50" fill="#e4e0f0" fill-opacity="0.95" text-anchor="start" textLength="87" lengthAdjust="spacingAndGlyphs" stroke="#32356f" stroke-width="0.9">(b3)</text><text x="1018" y="1590" font-size="50" fill="#e4e0f0" fill-opacity="0.95" text-anchor="start" textLength="83" lengthAdjust="spacingAndGlyphs" stroke="#32356f" stroke-width="0.9">B=1</text></svg></div>
<div class="panel" id="p-c3" style="left:1267px;top:1136.7px;width:418px;height:501.8px;border-color:#8c8c88 #c8c4c0 #8c8888 #6a6a6a">
<svg width="418" height="501.8" viewBox="1267 1136.7 418 501.8"><ellipse cx="1473.5" cy="1594" rx="20" ry="24" fill="#2b3f8e" fill-opacity="0.7" stroke="#2552b0" stroke-width="8" stroke-opacity="0.8"/><path d="M1262 1262 L1473.5 1567 L1690 1255" fill="none" stroke="#2857a8" stroke-width="9" stroke-opacity="0.42" stroke-linejoin="round"/><path d="M1262 1262 L1473.5 1567 L1690 1255" fill="none" stroke="#3494d8" stroke-width="3.4" stroke-opacity="1" stroke-linejoin="round" stroke-linecap="butt"/><path d="M1473.5 1567 V1624" stroke="#3c9ad4" stroke-width="4" stroke-dasharray="5 3" fill="none"/><path d="M1463.5 1612 L1483.5 1632" fill="none" stroke="#2a74cc" stroke-width="3" stroke-opacity="1" stroke-linejoin="round" stroke-linecap="butt"/><path d="M1483.5 1612 L1463.5 1632" fill="none" stroke="#2a74cc" stroke-width="3" stroke-opacity="1" stroke-linejoin="round" stroke-linecap="butt"/><text x="1298.7" y="1232.7" font-size="47" fill="#e4e0f0" fill-opacity="0.95" text-anchor="start" textLength="204.3" lengthAdjust="spacingAndGlyphs" stroke="#32356f" stroke-width="0.9"><tspan font-style="italic">β</tspan>=-0.0006</text><text x="1532.8" y="1232.7" font-size="47" fill="#e4e0f0" fill-opacity="0.95" text-anchor="start" textLength="118.6" lengthAdjust="spacingAndGlyphs" stroke="#32356f" stroke-width="0.9">C=2.2</text><text x="1297" y="1591.6" font-size="47" fill="#e4e0f0" fill-opacity="0.95" text-anchor="start" textLength="76.6" lengthAdjust="spacingAndGlyphs" stroke="#32356f" stroke-width="0.9">(c3)</text><text x="1573.4" y="1591.6" font-size="47" fill="#e4e0f0" fill-opacity="0.95" text-anchor="start" textLength="78" lengthAdjust="spacingAndGlyphs" stroke="#32356f" stroke-width="0.9">B=2</text></svg></div>
<div class="panel" id="p-d3" style="left:1828.6px;top:1136.7px;width:409.4px;height:497.3px;border-color:#8c8c88 #5a5a64 #bcb4b4 #8c8884;box-shadow:inset 0 -3px 0 rgba(62,64,88,0.85)">
<svg width="409.4" height="497.3" viewBox="1828.6 1136.7 409.4 497.3"><rect x="2022" y="1141" width="22" height="349" fill="#2b3f8c" fill-opacity="0.55"/><path d="M2026 1500 L2024.6 1503 L2023.2 1506 L2021.9 1509 L2020.7 1512 L2019.5 1515 L2018.3 1518 L2017.3 1521 L2016.3 1524 L2015.3 1527 L2014.5 1530 L2013.7 1533 L2013.1 1536 L2012.5 1539 L2012 1542 L2011.6 1545 L2011.3 1548 L2011.1 1551 L2011 1554 L2011 1557 L2011 1560 L2011 1563 L2011 1566 L2011 1569 L2011 1572 L2011 1575 L2011 1578 L2011 1581 L2011 1584 L2011 1587 L2011 1590 L2011 1593 L2011 1596 L2011 1599 L2011 1602 L2011 1605 L2011 1608 L2011 1611 L2011 1614 L2011 1617 L2011 1620 L2011 1623 L2011 1626 L2011 1629 L2011 1632 L2055 1632 L2055 1629 L2055 1626 L2055 1623 L2055 1620 L2055 1617 L2055 1614 L2055 1611 L2055 1608 L2055 1605 L2055 1602 L2055 1599 L2055 1596 L2055 1593 L2055 1590 L2055 1587 L2055 1584 L2055 1581 L2055 1578 L2055 1575 L2055 1572 L2055 1569 L2055 1566 L2055 1563 L2055 1560 L2055 1557 L2055 1554 L2054.9 1551 L2054.7 1548 L2054.4 1545 L2054 1542 L2053.5 1539 L2052.9 1536 L2052.3 1533 L2051.5 1530 L2050.7 1527 L2049.7 1524 L2048.7 1521 L2047.7 1518 L2046.5 1515 L2045.3 1512 L2044.1 1509 L2042.8 1506 L2041.4 1503 L2040 1500Z" fill="#2654a8" fill-opacity="0.85"/><path d="M2034.2 1488 L2035.7 1491 L2037.2 1494 L2038.6 1497 L2040 1500 L2041.4 1503 L2042.8 1506 L2044.1 1509 L2045.3 1512 L2046.5 1515 L2047.7 1518 L2048.7 1521 L2049.7 1524 L2050.7 1527 L2051.5 1530 L2052.3 1533 L2052.9 1536 L2053.5 1539 L2054 1542 L2054.4 1545 L2054.7 1548 L2054.9 1551 L2055 1554 L2055 1557 L2055 1560 L2055 1563 L2055 1566 L2055 1569 L2055 1572 L2055 1575 L2055 1578 L2055 1581 L2055 1584 L2055 1587 L2055 1590 L2055 1593 L2055 1596 L2055 1599 L2055 1602 L2055 1605 L2055 1608 L2055 1611 L2055 1614 L2055 1617 L2055 1620 L2055 1623 L2055 1626 L2055 1629 L2055 1632 L2055 1635" fill="none" stroke="#2552a8" stroke-width="24" stroke-opacity="0.8" stroke-linejoin="round" stroke-linecap="round"/><path d="M2031.8 1488 L2030.3 1491 L2028.8 1494 L2027.4 1497 L2026 1500 L2024.6 1503 L2023.2 1506 L2021.9 1509 L2020.7 1512 L2019.5 1515 L2018.3 1518 L2017.3 1521 L2016.3 1524 L2015.3 1527 L2014.5 1530 L2013.7 1533 L2013.1 1536 L2012.5 1539 L2012 1542 L2011.6 1545 L2011.3 1548 L2011.1 1551 L2011 1554 L2011 1557 L2011 1560 L2011 1563 L2011 1566 L2011 1569 L2011 1572 L2011 1575 L2011 1578 L2011 1581 L2011 1584 L2011 1587 L2011 1590 L2011 1593 L2011 1596 L2011 1599 L2011 1602 L2011 1605 L2011 1608 L2011 1611 L2011 1614 L2011 1617 L2011 1620 L2011 1623 L2011 1626 L2011 1629 L2011 1632 L2011 1635" fill="none" stroke="#2552a8" stroke-width="24" stroke-opacity="0.8" stroke-linejoin="round" stroke-linecap="round"/><path d="M2034.2 1488 L2035.7 1491 L2037.2 1494 L2038.6 1497 L2040 1500 L2041.4 1503 L2042.8 1506 L2044.1 1509 L2045.3 1512 L2046.5 1515 L2047.7 1518 L2048.7 1521 L2049.7 1524 L2050.7 1527 L2051.5 1530 L2052.3 1533 L2052.9 1536 L2053.5 1539 L2054 1542 L2054.4 1545 L2054.7 1548 L2054.9 1551 L2055 1554 L2055 1557 L2055 1560 L2055 1563 L2055 1566 L2055 1569 L2055 1572 L2055 1575 L2055 1578 L2055 1581 L2055 1584 L2055 1587 L2055 1590 L2055 1593 L2055 1596 L2055 1599 L2055 1602 L2055 1605 L2055 1608 L2055 1611 L2055 1614 L2055 1617 L2055 1620 L2055 1623 L2055 1626 L2055 1629 L2055 1632 L2055 1635" fill="none" stroke="#2960bc" stroke-width="9" stroke-opacity="0.6" stroke-linejoin="round"/><path d="M2031.8 1488 L2030.3 1491 L2028.8 1494 L2027.4 1497 L2026 1500 L2024.6 1503 L2023.2 1506 L2021.9 1509 L2020.7 1512 L2019.5 1515 L2018.3 1518 L2017.3 1521 L2016.3 1524 L2015.3 1527 L2014.5 1530 L2013.7 1533 L2013.1 1536 L2012.5 1539 L2012 1542 L2011.6 1545 L2011.3 1548 L2011.1 1551 L2011 1554 L2011 1557 L2011 1560 L2011 1563 L2011 1566 L2011 1569 L2011 1572 L2011 1575 L2011 1578 L2011 1581 L2011 1584 L2011 1587 L2011 1590 L2011 1593 L2011 1596 L2011 1599 L2011 1602 L2011 1605 L2011 1608 L2011 1611 L2011 1614 L2011 1617 L2011 1620 L2011 1623 L2011 1626 L2011 1629 L2011 1632 L2011 1635" fill="none" stroke="#2960bc" stroke-width="9" stroke-opacity="0.6" stroke-linejoin="round"/><path d="M2034.2 1488 L2035.7 1491 L2037.2 1494 L2038.6 1497 L2040 1500 L2041.4 1503 L2042.8 1506 L2044.1 1509 L2045.3 1512 L2046.5 1515 L2047.7 1518 L2048.7 1521 L2049.7 1524 L2050.7 1527 L2051.5 1530 L2052.3 1533 L2052.9 1536 L2053.5 1539 L2054 1542 L2054.4 1545 L2054.7 1548 L2054.9 1551 L2055 1554 L2055 1557 L2055 1560 L2055 1563 L2055 1566 L2055 1569 L2055 1572 L2055 1575 L2055 1578 L2055 1581 L2055 1584 L2055 1587 L2055 1590 L2055 1593 L2055 1596 L2055 1599 L2055 1602 L2055 1605 L2055 1608 L2055 1611 L2055 1614 L2055 1617 L2055 1620 L2055 1623 L2055 1626 L2055 1629 L2055 1632 L2055 1635" fill="none" stroke="#3db4e6" stroke-width="5" stroke-dasharray="7 19" stroke-linejoin="round"/><path d="M2031.8 1488 L2030.3 1491 L2028.8 1494 L2027.4 1497 L2026 1500 L2024.6 1503 L2023.2 1506 L2021.9 1509 L2020.7 1512 L2019.5 1515 L2018.3 1518 L2017.3 1521 L2016.3 1524 L2015.3 1527 L2014.5 1530 L2013.7 1533 L2013.1 1536 L2012.5 1539 L2012 1542 L2011.6 1545 L2011.3 1548 L2011.1 1551 L2011 1554 L2011 1557 L2011 1560 L2011 1563 L2011 1566 L2011 1569 L2011 1572 L2011 1575 L2011 1578 L2011 1581 L2011 1584 L2011 1587 L2011 1590 L2011 1593 L2011 1596 L2011 1599 L2011 1602 L2011 1605 L2011 1608 L2011 1611 L2011 1614 L2011 1617 L2011 1620 L2011 1623 L2011 1626 L2011 1629 L2011 1632 L2011 1635" fill="none" stroke="#3db4e6" stroke-width="5" stroke-dasharray="7 19" stroke-linejoin="round"/><path d="M1920 1137 L1921.9 1143.7 L1924.4 1152.4 L1927.4 1162.7 L1930.6 1174.2 L1934.2 1186.6 L1937.9 1199.5 L1941.7 1212.7 L1945.4 1225.7 L1949 1238.2 L1952.3 1249.8 L1955.5 1261 L1958.7 1272.4 L1961.9 1283.8 L1965.2 1295.2 L1968.4 1306.6 L1971.5 1317.7 L1974.6 1328.6 L1977.7 1339.2 L1980.6 1349.4 L1983.5 1359 L1986.3 1368.2 L1988.9 1377.1 L1991.5 1385.6 L1994 1393.9 L1996.4 1401.8 L1998.8 1409.4 L2001.2 1416.8 L2003.6 1423.8 L2006 1430.5 L2008.5 1437 L2011.1 1443.3 L2013.8 1449.4 L2016.7 1455.2 L2019.5 1460.9 L2022.3 1466.1 L2025 1471 L2027.5 1475.4 L2029.7 1479.4 L2031.5 1482.7 L2033 1485.5" fill="none" stroke="#2552a8" stroke-width="15" stroke-opacity="0.5" stroke-linejoin="round" stroke-linecap="round"/><path d="M2145.3 1137 L2143.4 1143.7 L2141 1152.4 L2138.1 1162.7 L2134.8 1174.2 L2131.3 1186.6 L2127.7 1199.5 L2124 1212.7 L2120.3 1225.7 L2116.8 1238.2 L2113.5 1249.8 L2110.3 1261 L2107.2 1272.4 L2104 1283.8 L2100.8 1295.2 L2097.6 1306.6 L2094.4 1317.7 L2091.3 1328.6 L2088.3 1339.2 L2085.4 1349.4 L2082.5 1359 L2079.8 1368.2 L2077.1 1377.1 L2074.5 1385.6 L2072 1393.9 L2069.6 1401.8 L2067.2 1409.4 L2064.8 1416.8 L2062.4 1423.8 L2060 1430.5 L2057.5 1437 L2054.9 1443.3 L2052.2 1449.4 L2049.3 1455.2 L2046.5 1460.9 L2043.7 1466.1 L2041 1471 L2038.5 1475.4 L2036.3 1479.4 L2034.5 1482.7 L2033 1485.5" fill="none" stroke="#2552a8" stroke-width="15" stroke-opacity="0.5" stroke-linejoin="round" stroke-linecap="round"/><path d="M1920 1137 L1921.9 1143.7 L1924.4 1152.4 L1927.4 1162.7 L1930.6 1174.2 L1934.2 1186.6 L1937.9 1199.5 L1941.7 1212.7 L1945.4 1225.7 L1949 1238.2 L1952.3 1249.8 L1955.5 1261 L1958.7 1272.4 L1961.9 1283.8 L1965.2 1295.2 L1968.4 1306.6 L1971.5 1317.7 L1974.6 1328.6 L1977.7 1339.2 L1980.6 1349.4 L1983.5 1359 L1986.3 1368.2 L1988.9 1377.1 L1991.5 1385.6 L1994 1393.9 L1996.4 1401.8 L1998.8 1409.4 L2001.2 1416.8 L2003.6 1423.8 L2006 1430.5 L2008.5 1437 L2011.1 1443.3 L2013.8 1449.4 L2016.7 1455.2 L2019.5 1460.9 L2022.3 1466.1 L2025 1471 L2027.5 1475.4 L2029.7 1479.4 L2031.5 1482.7 L2033 1485.5" fill="none" stroke="#2960bc" stroke-width="8" stroke-opacity="0.5" stroke-linejoin="round"/><path d="M2145.3 1137 L2143.4 1143.7 L2141 1152.4 L2138.1 1162.7 L2134.8 1174.2 L2131.3 1186.6 L2127.7 1199.5 L2124 1212.7 L2120.3 1225.7 L2116.8 1238.2 L2113.5 1249.8 L2110.3 1261 L2107.2 1272.4 L2104 1283.8 L2100.8 1295.2 L2097.6 1306.6 L2094.4 1317.7 L2091.3 1328.6 L2088.3 1339.2 L2085.4 1349.4 L2082.5 1359 L2079.8 1368.2 L2077.1 1377.1 L2074.5 1385.6 L2072 1393.9 L2069.6 1401.8 L2067.2 1409.4 L2064.8 1416.8 L2062.4 1423.8 L2060 1430.5 L2057.5 1437 L2054.9 1443.3 L2052.2 1449.4 L2049.3 1455.2 L2046.5 1460.9 L2043.7 1466.1 L2041 1471 L2038.5 1475.4 L2036.3 1479.4 L2034.5 1482.7 L2033 1485.5" fill="none" stroke="#2960bc" stroke-width="8" stroke-opacity="0.5" stroke-linejoin="round"/><path d="M1920 1137 L1921.9 1143.7 L1924.4 1152.4 L1927.4 1162.7 L1930.6 1174.2 L1934.2 1186.6 L1937.9 1199.5 L1941.7 1212.7 L1945.4 1225.7 L1949 1238.2 L1952.3 1249.8 L1955.5 1261 L1958.7 1272.4 L1961.9 1283.8 L1965.2 1295.2 L1968.4 1306.6 L1971.5 1317.7 L1974.6 1328.6 L1977.7 1339.2 L1980.6 1349.4 L1983.5 1359 L1986.3 1368.2 L1988.9 1377.1 L1991.5 1385.6 L1994 1393.9 L1996.4 1401.8 L1998.8 1409.4 L2001.2 1416.8 L2003.6 1423.8 L2006 1430.5 L2008.5 1437 L2011.1 1443.3 L2013.8 1449.4 L2016.7 1455.2 L2019.5 1460.9 L2022.3 1466.1 L2025 1471 L2027.5 1475.4 L2029.7 1479.4 L2031.5 1482.7 L2033 1485.5" fill="none" stroke="#2a70c8" stroke-width="4.6" stroke-linejoin="round"/><path d="M2145.3 1137 L2143.4 1143.7 L2141 1152.4 L2138.1 1162.7 L2134.8 1174.2 L2131.3 1186.6 L2127.7 1199.5 L2124 1212.7 L2120.3 1225.7 L2116.8 1238.2 L2113.5 1249.8 L2110.3 1261 L2107.2 1272.4 L2104 1283.8 L2100.8 1295.2 L2097.6 1306.6 L2094.4 1317.7 L2091.3 1328.6 L2088.3 1339.2 L2085.4 1349.4 L2082.5 1359 L2079.8 1368.2 L2077.1 1377.1 L2074.5 1385.6 L2072 1393.9 L2069.6 1401.8 L2067.2 1409.4 L2064.8 1416.8 L2062.4 1423.8 L2060 1430.5 L2057.5 1437 L2054.9 1443.3 L2052.2 1449.4 L2049.3 1455.2 L2046.5 1460.9 L2043.7 1466.1 L2041 1471 L2038.5 1475.4 L2036.3 1479.4 L2034.5 1482.7 L2033 1485.5" fill="none" stroke="#2a70c8" stroke-width="4.6" stroke-linejoin="round"/><path d="M1920 1137 L1921.9 1143.7 L1924.4 1152.4 L1927.4 1162.7 L1930.6 1174.2 L1934.2 1186.6 L1937.9 1199.5 L1941.7 1212.7 L1945.4 1225.7 L1949 1238.2 L1952.3 1249.8 L1955.5 1261 L1958.7 1272.4 L1961.9 1283.8 L1965.2 1295.2 L1968.4 1306.6 L1971.5 1317.7 L1974.6 1328.6 L1977.7 1339.2 L1980.6 1349.4 L1983.5 1359 L1986.3 1368.2 L1988.9 1377.1 L1991.5 1385.6 L1994 1393.9 L1996.4 1401.8 L1998.8 1409.4 L2001.2 1416.8 L2003.6 1423.8 L2006 1430.5 L2008.5 1437 L2011.1 1443.3 L2013.8 1449.4 L2016.7 1455.2 L2019.5 1460.9 L2022.3 1466.1 L2025 1471 L2027.5 1475.4 L2029.7 1479.4 L2031.5 1482.7 L2033 1485.5" fill="none" stroke="#2c80d0" stroke-width="4.6" stroke-dasharray="4 24" stroke-linejoin="round"/><path d="M2145.3 1137 L2143.4 1143.7 L2141 1152.4 L2138.1 1162.7 L2134.8 1174.2 L2131.3 1186.6 L2127.7 1199.5 L2124 1212.7 L2120.3 1225.7 L2116.8 1238.2 L2113.5 1249.8 L2110.3 1261 L2107.2 1272.4 L2104 1283.8 L2100.8 1295.2 L2097.6 1306.6 L2094.4 1317.7 L2091.3 1328.6 L2088.3 1339.2 L2085.4 1349.4 L2082.5 1359 L2079.8 1368.2 L2077.1 1377.1 L2074.5 1385.6 L2072 1393.9 L2069.6 1401.8 L2067.2 1409.4 L2064.8 1416.8 L2062.4 1423.8 L2060 1430.5 L2057.5 1437 L2054.9 1443.3 L2052.2 1449.4 L2049.3 1455.2 L2046.5 1460.9 L2043.7 1466.1 L2041 1471 L2038.5 1475.4 L2036.3 1479.4 L2034.5 1482.7 L2033 1485.5" fill="none" stroke="#2c80d0" stroke-width="4.6" stroke-dasharray="4 24" stroke-linejoin="round"/><text x="1858.7" y="1232.7" font-size="51" fill="#e4e0f0" fill-opacity="0.95" text-anchor="start" textLength="220" lengthAdjust="spacingAndGlyphs" stroke="#32356f" stroke-width="0.9"><tspan font-style="italic">β</tspan>=-0.0002</text><text x="2096" y="1232.7" font-size="51" fill="#e4e0f0" fill-opacity="0.95" text-anchor="start" textLength="128" lengthAdjust="spacingAndGlyphs" stroke="#32356f" stroke-width="0.9">C=1.9</text><text x="1858.7" y="1590" font-size="51" fill="#e4e0f0" fill-opacity="0.95" text-anchor="start" textLength="87.3" lengthAdjust="spacingAndGlyphs" stroke="#32356f" stroke-width="0.9">(d3)</text><text x="2131.8" y="1590" font-size="51" fill="#e4e0f0" fill-opacity="0.95" text-anchor="start" textLength="84.2" lengthAdjust="spacingAndGlyphs" stroke="#32356f" stroke-width="0.9">B=3</text></svg></div>
<div class="cb" id="cb-a1" style="left:580.5px;top:39.7px;width:37.5px;height:497px;box-shadow:inset 0 -4px 0 rgba(150,150,172,0.5),inset 4px 0 0 rgba(228,228,228,0.92),inset -4px 0 0 rgba(192,186,180,0.8)"><i style="top:4.8px"></i><i style="top:126.8px"></i><i style="top:249.8px"></i><i style="top:371.8px"></i></div>
<div class="cb" id="cb-b1" style="left:1137px;top:39.7px;width:37px;height:502.3px;box-shadow:inset 0 -4px 0 rgba(150,150,172,0.5),inset 4px 0 0 rgba(188,182,186,0.78),inset -4px 0 0 rgba(212,210,210,0.9)"><i style="top:40.3px"></i><i style="top:117.8px"></i><i style="top:193.3px"></i><i style="top:270.3px"></i><i style="top:347.8px"></i><i style="top:424.8px"></i></div>
<div class="cb" id="cb-c1" style="left:1693.5px;top:39.7px;width:33.5px;height:484.3px;box-shadow:inset 0 -4px 0 rgba(150,150,172,0.5),inset 4px 0 0 rgba(175,165,165,0.72),inset -4px 0 0 rgba(125,105,95,0.5)"><i style="top:91.8px"></i><i style="top:188.8px"></i><i style="top:285.8px"></i><i style="top:383.3px"></i></div>
<div class="cb" id="cb-d1" style="left:2250px;top:39.7px;width:34px;height:493.3px;box-shadow:inset 0 -4px 0 rgba(150,150,172,0.5),inset 4px 0 0 rgba(175,145,135,0.7),inset -4px 0 0 rgba(145,125,125,0.6)"><i style="top:79.8px"></i><i style="top:217.5px"></i><i style="top:354.8px"></i></div>
<div class="cb" id="cb-a2" style="left:580.5px;top:588px;width:37.5px;height:489px;box-shadow:inset 0 4px 0 rgba(190,170,160,0.6),inset 0 -4px 0 rgba(150,150,172,0.5),inset 4px 0 0 rgba(228,228,228,0.92),inset -4px 0 0 rgba(192,186,180,0.8)"><i style="top:114px"></i><i style="top:239px"></i><i style="top:361.8px"></i></div>
<div class="cb" id="cb-b2" style="left:1137px;top:588px;width:37px;height:502px;box-shadow:inset 0 4px 0 rgba(190,170,160,0.6),inset 0 -4px 0 rgba(150,150,172,0.5),inset 4px 0 0 rgba(188,182,186,0.78),inset -4px 0 0 rgba(212,210,210,0.9)"><i style="top:7.5px"></i><i style="top:105.3px"></i><i style="top:203.5px"></i><i style="top:302.3px"></i><i style="top:399.9px"></i></div>
<div class="cb" id="cb-c2" style="left:1693.5px;top:588px;width:33.5px;height:485px;box-shadow:inset 0 4px 0 rgba(190,170,160,0.6),inset 0 -4px 0 rgba(150,150,172,0.5),inset 4px 0 0 rgba(175,165,165,0.72),inset -4px 0 0 rgba(125,105,95,0.5)"><i style="top:41.3px"></i><i style="top:150.5px"></i><i style="top:261.1px"></i><i style="top:373.2px"></i></div>
<div class="cb" id="cb-d2" style="left:2250px;top:588px;width:34px;height:489px;box-shadow:inset 0 4px 0 rgba(190,170,160,0.6),inset 0 -4px 0 rgba(150,150,172,0.5),inset 4px 0 0 rgba(175,145,135,0.7),inset -4px 0 0 rgba(145,125,125,0.6)"><i style="top:45.1px"></i><i style="top:192.8px"></i><i style="top:340.5px"></i></div>
<div class="cb" id="cb-a3" style="left:580.5px;top:1136.7px;width:37.5px;height:485.3px;box-shadow:inset 0 4px 0 rgba(190,170,160,0.6),inset 0 -4px 0 rgba(150,150,172,0.5),inset 4px 0 0 rgba(228,228,228,0.92),inset -4px 0 0 rgba(192,186,180,0.8)"><i style="top:164.3px"></i><i style="top:324.8px"></i></div>
<div class="cb" id="cb-b3" style="left:1137px;top:1136.7px;width:37px;height:497.3px;box-shadow:inset 0 4px 0 rgba(190,170,160,0.6),inset 0 -4px 0 rgba(150,150,172,0.5),inset 4px 0 0 rgba(188,182,186,0.78),inset -4px 0 0 rgba(212,210,210,0.9)"><i style="top:93.8px"></i><i style="top:194.8px"></i><i style="top:294.2px"></i><i style="top:393.3px"></i></div>
<div class="cb" id="cb-c3" style="left:1693.5px;top:1136.7px;width:33.5px;height:501.3px;box-shadow:inset 0 4px 0 rgba(190,170,160,0.6),inset 0 -4px 0 rgba(150,150,172,0.5),inset 4px 0 0 rgba(175,165,165,0.72),inset -4px 0 0 rgba(125,105,95,0.5)"><i style="top:40.6px"></i><i style="top:193.6px"></i><i style="top:347.3px"></i></div>
<div class="cb" id="cb-d3" style="left:2250px;top:1136.7px;width:34px;height:497.3px;box-shadow:inset 0 4px 0 rgba(190,170,160,0.6),inset 0 -4px 0 rgba(150,150,172,0.5),inset 4px 0 0 rgba(175,145,135,0.7),inset -4px 0 0 rgba(145,125,125,0.6)"><i style="top:119.5px"></i><i style="top:244.3px"></i><i style="top:368.4px"></i></div>
<svg id="ov" width="2372" height="1787" viewBox="0 0 2372 1787"><text x="629" y="62.9" font-size="50" fill="#525252" fill-opacity="1" text-anchor="start" stroke="#ffffff" stroke-width="0.9">80</text><text x="629" y="184.9" font-size="50" fill="#525252" fill-opacity="1" text-anchor="start" stroke="#ffffff" stroke-width="0.9">60</text><text x="629" y="307.9" font-size="50" fill="#525252" fill-opacity="1" text-anchor="start" stroke="#ffffff" stroke-width="0.9">40</text><text x="629" y="429.9" font-size="50" fill="#525252" fill-opacity="1" text-anchor="start" stroke="#ffffff" stroke-width="0.9">20</text><text x="1186" y="96.7" font-size="45" fill="#525252" fill-opacity="1" text-anchor="start" stroke="#ffffff" stroke-width="0.9">120</text><text x="1186" y="174.2" font-size="45" fill="#525252" fill-opacity="1" text-anchor="start" stroke="#ffffff" stroke-width="0.9">100</text><text x="1186" y="249.7" font-size="45" fill="#525252" fill-opacity="1" text-anchor="start" stroke="#ffffff" stroke-width="0.9">80</text><text x="1186" y="326.7" font-size="45" fill="#525252" fill-opacity="1" text-anchor="start" stroke="#ffffff" stroke-width="0.9">60</text><text x="1186" y="404.2" font-size="45" fill="#525252" fill-opacity="1" text-anchor="start" stroke="#ffffff" stroke-width="0.9">40</text><text x="1186" y="481.2" font-size="45" fill="#525252" fill-opacity="1" text-anchor="start" stroke="#ffffff" stroke-width="0.9">20</text><text x="1744" y="152.6" font-size="58" fill="#525252" fill-opacity="1" text-anchor="start" stroke="#ffffff" stroke-width="0.9">80</text><text x="1744" y="249.6" font-size="58" fill="#525252" fill-opacity="1" text-anchor="start" stroke="#ffffff" stroke-width="0.9">60</text><text x="1744" y="346.6" font-size="58" fill="#525252" fill-opacity="1" text-anchor="start" stroke="#ffffff" stroke-width="0.9">40</text><text x="1744" y="444.1" font-size="58" fill="#525252" fill-opacity="1" text-anchor="start" stroke="#ffffff" stroke-width="0.9">20</text><text x="2297" y="138.2" font-size="51" fill="#525252" fill-opacity="1" text-anchor="start" stroke="#ffffff" stroke-width="0.9">30</text><text x="2297" y="275.9" font-size="51" fill="#525252" fill-opacity="1" text-anchor="start" stroke="#ffffff" stroke-width="0.9">20</text><text x="2297" y="413.2" font-size="51" fill="#525252" fill-opacity="1" text-anchor="start" stroke="#ffffff" stroke-width="0.9">10</text><text x="632" y="722.8" font-size="57" fill="#525252" fill-opacity="1" text-anchor="start" stroke="#ffffff" stroke-width="0.9">60</text><text x="632" y="847.8" font-size="57" fill="#525252" fill-opacity="1" text-anchor="start" stroke="#ffffff" stroke-width="0.9">40</text><text x="632" y="970.6" font-size="57" fill="#525252" fill-opacity="1" text-anchor="start" stroke="#ffffff" stroke-width="0.9">20</text><text x="1187" y="612.5" font-size="46" fill="#525252" fill-opacity="1" text-anchor="start" stroke="#ffffff" stroke-width="0.9">100</text><text x="1187" y="710.3" font-size="46" fill="#525252" fill-opacity="1" text-anchor="start" stroke="#ffffff" stroke-width="0.9">80</text><text x="1187" y="808.5" font-size="46" fill="#525252" fill-opacity="1" text-anchor="start" stroke="#ffffff" stroke-width="0.9">60</text><text x="1187" y="907.3" font-size="46" fill="#525252" fill-opacity="1" text-anchor="start" stroke="#ffffff" stroke-width="0.9">40</text><text x="1187" y="1004.9" font-size="46" fill="#525252" fill-opacity="1" text-anchor="start" stroke="#ffffff" stroke-width="0.9">20</text><text x="1744" y="650.4" font-size="58" fill="#525252" fill-opacity="1" text-anchor="start" stroke="#ffffff" stroke-width="0.9">80</text><text x="1744" y="759.6" font-size="58" fill="#525252" fill-opacity="1" text-anchor="start" stroke="#ffffff" stroke-width="0.9">60</text><text x="1744" y="870.2" font-size="58" fill="#525252" fill-opacity="1" text-anchor="start" stroke="#ffffff" stroke-width="0.9">40</text><text x="1744" y="982.3" font-size="58" fill="#525252" fill-opacity="1" text-anchor="start" stroke="#ffffff" stroke-width="0.9">20</text><text x="2300" y="653.9" font-size="57" fill="#525252" fill-opacity="1" text-anchor="start" stroke="#ffffff" stroke-width="0.9">30</text><text x="2300" y="801.6" font-size="57" fill="#525252" fill-opacity="1" text-anchor="start" stroke="#ffffff" stroke-width="0.9">20</text><text x="2300" y="949.3" font-size="57" fill="#525252" fill-opacity="1" text-anchor="start" stroke="#ffffff" stroke-width="0.9">10</text><text x="632" y="1161.4" font-size="58" fill="#525252" fill-opacity="1" text-anchor="start" stroke="#ffffff" stroke-width="0.9">60</text><text x="632" y="1322.1" font-size="58" fill="#525252" fill-opacity="1" text-anchor="start" stroke="#ffffff" stroke-width="0.9">40</text><text x="632" y="1482.6" font-size="58" fill="#525252" fill-opacity="1" text-anchor="start" stroke="#ffffff" stroke-width="0.9">20</text><text x="1187" y="1249.6" font-size="52" fill="#525252" fill-opacity="1" text-anchor="start" stroke="#ffffff" stroke-width="0.9">80</text><text x="1187" y="1350.6" font-size="52" fill="#525252" fill-opacity="1" text-anchor="start" stroke="#ffffff" stroke-width="0.9">60</text><text x="1187" y="1450" font-size="52" fill="#525252" fill-opacity="1" text-anchor="start" stroke="#ffffff" stroke-width="0.9">40</text><text x="1187" y="1549.1" font-size="52" fill="#525252" fill-opacity="1" text-anchor="start" stroke="#ffffff" stroke-width="0.9">20</text><text x="1742" y="1195" font-size="48" fill="#525252" fill-opacity="1" text-anchor="start" stroke="#ffffff" stroke-width="0.9">60</text><text x="1742" y="1348" font-size="48" fill="#525252" fill-opacity="1" text-anchor="start" stroke="#ffffff" stroke-width="0.9">40</text><text x="1742" y="1501.7" font-size="48" fill="#525252" fill-opacity="1" text-anchor="start" stroke="#ffffff" stroke-width="0.9">20</text><text x="2297" y="1275.6" font-size="53" fill="#525252" fill-opacity="1" text-anchor="start" stroke="#ffffff" stroke-width="0.9">30</text><text x="2297" y="1400.4" font-size="53" fill="#525252" fill-opacity="1" text-anchor="start" stroke="#ffffff" stroke-width="0.9">20</text><text x="2297" y="1524.5" font-size="53" fill="#525252" fill-opacity="1" text-anchor="start" stroke="#ffffff" stroke-width="0.9">10</text><text x="143" y="1208.8" font-size="66" fill="#525252" fill-opacity="1" text-anchor="end" stroke="#ffffff" stroke-width="0.9">30</text><text x="143" y="1342.8" font-size="66" fill="#525252" fill-opacity="1" text-anchor="end" stroke="#ffffff" stroke-width="0.9">20</text><text x="143" y="1489.3" font-size="66" fill="#525252" fill-opacity="1" text-anchor="end" stroke="#ffffff" stroke-width="0.9">10</text><text x="147.5" y="1643.8" font-size="66" fill="#525252" fill-opacity="1" text-anchor="end" stroke="#ffffff" stroke-width="0.9">0</text><text x="216.5" y="1702" font-size="66" fill="#525252" fill-opacity="1" text-anchor="middle" stroke="#ffffff" stroke-width="0.9">-10</text><text x="362.5" y="1702" font-size="66" fill="#525252" fill-opacity="1" text-anchor="middle" stroke="#ffffff" stroke-width="0.9">0</text><text x="509.5" y="1702" font-size="66" fill="#525252" fill-opacity="1" text-anchor="middle" stroke="#ffffff" stroke-width="0.9">10</text><text x="368" y="1760" font-size="66" fill="#525252" fill-opacity="1" text-anchor="middle" stroke="#ffffff" stroke-width="0.9">X</text><text x="0" y="0" font-size="66" fill="#525252" stroke="#ffffff" stroke-width="0.9" text-anchor="middle" transform="translate(60,1378.5) rotate(-90)">Z</text></svg>
</div>
</body></html>
